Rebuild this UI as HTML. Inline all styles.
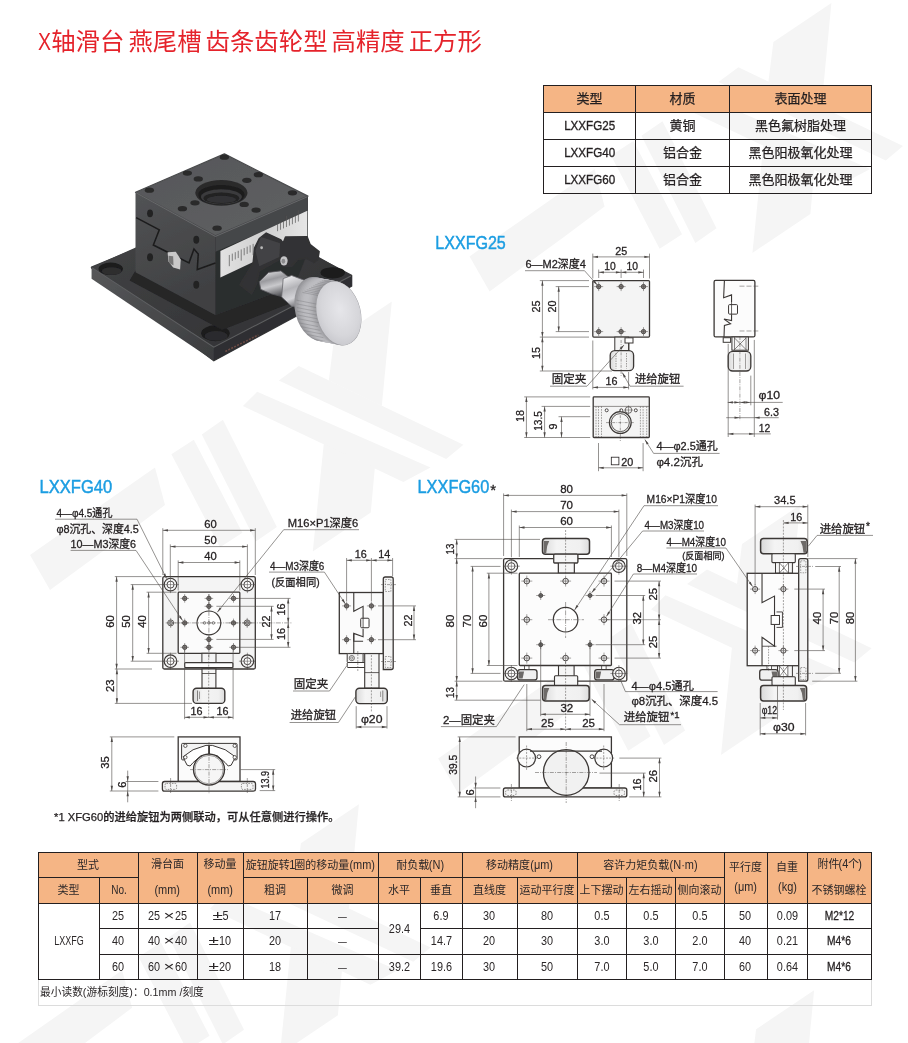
<!DOCTYPE html>
<html lang="zh-CN">
<head>
<meta charset="utf-8">
<title>X轴滑台 燕尾槽 齿条齿轮型 高精度 正方形</title>
<style>
html,body{margin:0;padding:0;background:#fff;}
#page{position:absolute;left:0;top:0;width:908px;height:1043px;overflow:hidden;will-change:transform;transform:translateZ(0);}
body{width:908px;height:1043px;position:relative;overflow:hidden;font-family:"Liberation Sans","Noto Sans CJK SC",sans-serif;color:#231f20;}
.abs{position:absolute;left:0;top:0;}
h1{position:absolute;left:37.5px;top:25px;margin:0;font-size:24.4px;line-height:34px;font-weight:400;color:#e5232b;white-space:nowrap;letter-spacing:0;}
h1 .x{display:inline-block;transform-origin:0 50%;transform:scaleX(.8);margin-right:-2.6px;}
h1 .s{display:inline-block;width:4px;}
table{border-collapse:collapse;table-layout:fixed;position:absolute;}
.t1{left:543px;top:85px;width:328px;font-size:13px;}
.t1 th,.t1 td{border:1.2px solid #231f20;height:26px;padding:0;text-align:center;vertical-align:middle;font-weight:400;-webkit-text-stroke:0.25px #231f20;line-height:26px;white-space:nowrap;overflow:hidden;}
.t1 th{background:#f5b585;}
.t1 td{background:rgba(255,255,255,.0);}
.la{display:inline-block;transform:scaleX(.86);font-weight:400;font-size:13.5px;-webkit-text-stroke:0.35px #231f20;}
.t2{left:37.5px;top:851.5px;width:833px;font-size:11px;color:#2b2728;}
.t2 tr{height:25.6px;}
.t2 thead tr.h1{height:25.1px;}
.t2 thead tr.h2{height:25.8px;}
.t2 th,.t2 td{border:1.1px solid #231f20;padding:0;text-align:center;vertical-align:middle;font-weight:400;white-space:nowrap;overflow:hidden;line-height:14px;box-sizing:border-box;}
.t2 th{background:#f5b585;}
.t2 .two div{line-height:26.4px;margin:-1.6px 0 -1.2px;}
.t2 .tight div{line-height:20px;margin:0;position:relative;top:-0.5px;}
.t2 .n{display:inline-block;font-size:12.8px;transform:scaleX(.85);margin:0 -1px;}
.t2 .c{display:inline-block;font-size:12.8px;transform:scaleX(.7);}
.t2 .k{display:inline-block;font-size:12.8px;transform:scaleX(.78);}
.t2 .w{display:inline-block;font-size:13.5px;transform:scaleX(1.4);margin:0 1.6px 0 1.8px;position:relative;top:-0.3px;}
.t2 th .n{font-size:12.2px;transform:scaleX(.9);margin:0 -1.2px;}
.t2 .b .c{transform:scaleX(.8);-webkit-text-stroke:0.3px #231f20;color:#231f20;}
.t2 .d{display:inline-block;transform:scaleX(.8);}
.note{position:absolute;left:38px;top:980px;width:834px;height:26px;border:1px solid #dcdcdc;border-top:none;box-sizing:border-box;font-size:11px;line-height:25px;color:#2b2728;white-space:nowrap;}
.note span{display:inline-block;transform-origin:0 50%;transform:scaleX(.975);padding-left:1px;}
svg text{font-family:"Liberation Sans","Noto Sans CJK SC",sans-serif;}
</style>
</head>
<body>
<div id="page">
<svg class="abs" id="wm" width="908" height="1043" viewBox="0 0 908 1043">
<g transform="translate(831.4 2.9)">
<polygon points="0,0 -58,39 -63,79 -10,104.5" fill="#f5f5f5"/>
<polygon points="-93,64.4 71.6,143.2 54.4,157.5 -113,79" fill="#f5f5f5"/>
<polygon points="-134.6,90.2 38.7,166 11.5,180.5 -148.9,104.5" fill="#f5f5f5"/>
<polygon points="-68,142 -17,166.5 -21,211 -79,250" fill="#f5f5f5"/>
<polygon points="-220.4,152.7 -198,138.2 -149.38,231.33 -171.78,245.83" fill="#f5f5f5"/>
<polygon points="-190,132.9 -168.9,118.3 -114.9,225.46 -136,240.06" fill="#f5f5f5"/>
<polygon points="-236.8,166 -361.8,253.5 -341.8,288.5 -266.8,233.5 -226.8,203.5" fill="#f5f5f5"/>
</g>
<g transform="translate(391.8 301.5)">
<polygon points="0,0 -58,39 -63,79 -10,104.5" fill="#f5f5f5"/>
<polygon points="-93,64.4 71.6,143.2 54.4,157.5 -113,79" fill="#f5f5f5"/>
<polygon points="-134.6,90.2 38.7,166 11.5,180.5 -148.9,104.5" fill="#f5f5f5"/>
<polygon points="-68,142 -17,166.5 -21,211 -79,250" fill="#f5f5f5"/>
<polygon points="-220.4,152.7 -198,138.2 -149.38,231.33 -171.78,245.83" fill="#f5f5f5"/>
<polygon points="-190,132.9 -168.9,118.3 -114.9,225.46 -136,240.06" fill="#f5f5f5"/>
<polygon points="-236.8,166 -361.8,253.5 -341.8,288.5 -266.8,233.5 -226.8,203.5" fill="#f5f5f5"/>
</g>
<g transform="translate(358.9 804.3)">
<polygon points="0,0 -58,39 -63,79 -10,104.5" fill="#f5f5f5"/>
<polygon points="-93,64.4 71.6,143.2 54.4,157.5 -113,79" fill="#f5f5f5"/>
<polygon points="-134.6,90.2 38.7,166 11.5,180.5 -148.9,104.5" fill="#f5f5f5"/>
<polygon points="-68,142 -17,166.5 -21,211 -79,250" fill="#f5f5f5"/>
<polygon points="-220.4,152.7 -198,138.2 -149.38,231.33 -171.78,245.83" fill="#f5f5f5"/>
<polygon points="-190,132.9 -168.9,118.3 -114.9,225.46 -136,240.06" fill="#f5f5f5"/>
<polygon points="-236.8,166 -361.8,253.5 -341.8,288.5 -266.8,233.5 -226.8,203.5" fill="#f5f5f5"/>
</g>
<g transform="translate(814.1 990.2)">
<polygon points="0,0 -58,39 -63,79 -10,104.5" fill="#f5f5f5"/>
<polygon points="-93,64.4 71.6,143.2 54.4,157.5 -113,79" fill="#f5f5f5"/>
<polygon points="-134.6,90.2 38.7,166 11.5,180.5 -148.9,104.5" fill="#f5f5f5"/>
<polygon points="-68,142 -17,166.5 -21,211 -79,250" fill="#f5f5f5"/>
<polygon points="-220.4,152.7 -198,138.2 -149.38,231.33 -171.78,245.83" fill="#f5f5f5"/>
<polygon points="-190,132.9 -168.9,118.3 -114.9,225.46 -136,240.06" fill="#f5f5f5"/>
<polygon points="-236.8,166 -361.8,253.5 -341.8,288.5 -266.8,233.5 -226.8,203.5" fill="#f5f5f5"/>
</g>
<g transform="translate(800 505)">
<polygon points="0,0 -58,39 -63,79 -10,104.5" fill="#f5f5f5"/>
<polygon points="-93,64.4 71.6,143.2 54.4,157.5 -113,79" fill="#f5f5f5"/>
<polygon points="-134.6,90.2 38.7,166 11.5,180.5 -148.9,104.5" fill="#f5f5f5"/>
<polygon points="-68,142 -17,166.5 -21,211 -79,250" fill="#f5f5f5"/>
<polygon points="-220.4,152.7 -198,138.2 -149.38,231.33 -171.78,245.83" fill="#f5f5f5"/>
<polygon points="-190,132.9 -168.9,118.3 -114.9,225.46 -136,240.06" fill="#f5f5f5"/>
<polygon points="-236.8,166 -361.8,253.5 -341.8,288.5 -266.8,233.5 -226.8,203.5" fill="#f5f5f5"/>
</g>
</svg>
<h1><span class="x">X</span>轴滑台<span class="s"> </span>燕尾槽<span class="s"> </span>齿条齿轮型<span class="s"> </span>高精度<span class="s"> </span>正方形</h1>
<table class="t1"><colgroup><col style="width:92px"><col style="width:94px"><col style="width:142px"></colgroup>
<thead><tr><th>类型</th><th>材质</th><th>表面处理</th></tr></thead>
<tbody>
<tr><td><span class="la">LXXFG25</span></td><td>黄铜</td><td>黑色氟树脂处理</td></tr>
<tr><td><span class="la">LXXFG40</span></td><td>铝合金</td><td>黑色阳极氧化处理</td></tr>
<tr><td><span class="la">LXXFG60</span></td><td>铝合金</td><td>黑色阳极氧化处理</td></tr>
</tbody></table>
<svg class="abs" id="photo" width="908" height="1043" viewBox="0 0 908 1043">
<defs>
<filter id="soft" x="-5%" y="-5%" width="110%" height="110%"><feGaussianBlur stdDeviation="0.45"/></filter>
<linearGradient id="pl" x1="0" y1="0" x2="1" y2="1"><stop offset="0" stop-color="#565759"/><stop offset="1" stop-color="#3c3d3f"/></linearGradient>
<linearGradient id="pt" x1="0" y1="0" x2="1" y2="1"><stop offset="0" stop-color="#444547"/><stop offset="1" stop-color="#303032"/></linearGradient>
<linearGradient id="bl" x1="0" y1="0" x2="0.3" y2="1"><stop offset="0" stop-color="#525355"/><stop offset="1" stop-color="#3f4042"/></linearGradient>
<linearGradient id="tf" x1="0" y1="0" x2="1" y2="1"><stop offset="0" stop-color="#555658"/><stop offset="1" stop-color="#606163"/></linearGradient>
<linearGradient id="lb" x1="0" y1="0" x2="1" y2="0"><stop offset="0" stop-color="#e2e2e2"/><stop offset="0.5" stop-color="#cfcfcf"/><stop offset="1" stop-color="#e6e6e6"/></linearGradient>
<linearGradient id="sh" x1="0.2" y1="0" x2="0.5" y2="1"><stop offset="0" stop-color="#e2e2e4"/><stop offset="0.35" stop-color="#9a9a9e"/><stop offset="0.6" stop-color="#c9c9cc"/><stop offset="1" stop-color="#56565a"/></linearGradient>
<linearGradient id="sh2" x1="0.2" y1="0" x2="0.5" y2="1"><stop offset="0" stop-color="#f0f0f2"/><stop offset="0.4" stop-color="#b4b4b8"/><stop offset="0.7" stop-color="#d4d4d8"/><stop offset="1" stop-color="#6a6a6e"/></linearGradient>
<radialGradient id="kf" cx="0.55" cy="0.45" r="0.75"><stop offset="0" stop-color="#e6e6ea"/><stop offset="0.55" stop-color="#d6d6da"/><stop offset="1" stop-color="#bcbcc2"/></radialGradient>
<linearGradient id="gk" x1="0" y1="0" x2="1" y2="0"><stop offset="0" stop-color="#d9d9d9"/><stop offset="0.3" stop-color="#f4f4f4"/><stop offset="0.8" stop-color="#f0f0f0"/><stop offset="1" stop-color="#dcdcdc"/></linearGradient>
</defs>
<g filter="url(#soft)">
<polygon points="91.56,267.85 213.8,360.68 351.56,286.02 351.56,275.45 228.66,211.03 91.56,267.19" fill="#3a3b3d" stroke="#3a3b3d" stroke-width="1.5" stroke-linejoin="round"/>
<polygon points="91.56,267.19 213.8,346.48 213.8,360.68 91.56,278.75" fill="url(#pl)" />
<polygon points="213.8,346.48 351.56,275.45 351.56,286.02 213.8,360.68" fill="#2e2e30" />
<polygon points="91.56,267.19 228.66,206.07 351.56,275.45 213.8,346.48" fill="url(#pt)" />
<polyline points="92.22,267.85 213.8,347.14 350.9,276.11" fill="none" stroke="#5d5e60" stroke-width="1.1"/>
<polyline points="225.36,351.43 258.39,334.91" fill="none" stroke="#6b4a44" stroke-width="1.6" stroke-dasharray="2 1.3"/>
<ellipse cx="110.72" cy="268.84" rx="12.22" ry="6.28" fill="#1a1a1b" />
<ellipse cx="111.71" cy="271.15" rx="9.91" ry="3.96" fill="#2d2d2f" />
<ellipse cx="215.45" cy="333.26" rx="14.21" ry="7.93" fill="#1a1a1b" />
<ellipse cx="216.11" cy="335.9" rx="11.56" ry="4.96" fill="#2b2b2d" />
<ellipse cx="332.73" cy="272.8" rx="12.22" ry="5.62" fill="#1a1a1b" />
<polygon points="135.5,270.49 215.45,315.09 294.73,285.36 311.25,295.27 222.05,329.96 129.55,280.4" fill="#252527" />
<polygon points="135.5,192.2 215.45,235.8 215.45,315.09 135.5,272.14" fill="url(#bl)" />
<polygon points="215.45,235.8 307.95,196.16 307.95,252.32 294.73,285.36 215.45,315.09" fill="#2c2d2f" />
<polygon points="215.45,235.8 307.95,196.16 307.95,212.02 215.45,251.66" fill="#454648" />
<polygon points="220.4,251 307.29,210.7 307.29,236.47 220.4,277.43" fill="url(#lb)" />
<line x1="229.32" y1="254.97" x2="229.32" y2="266.2" stroke="#555" stroke-width="0.7"/>
<line x1="232.3" y1="253.58" x2="232.3" y2="260.85" stroke="#555" stroke-width="0.7"/>
<line x1="235.27" y1="252.19" x2="235.27" y2="259.46" stroke="#555" stroke-width="0.7"/>
<line x1="238.24" y1="250.8" x2="238.24" y2="258.07" stroke="#555" stroke-width="0.7"/>
<line x1="241.22" y1="249.42" x2="241.22" y2="260.65" stroke="#555" stroke-width="0.7"/>
<line x1="244.19" y1="248.03" x2="244.19" y2="255.3" stroke="#555" stroke-width="0.7"/>
<line x1="247.16" y1="246.64" x2="247.16" y2="253.91" stroke="#555" stroke-width="0.7"/>
<line x1="250.14" y1="245.25" x2="250.14" y2="252.52" stroke="#555" stroke-width="0.7"/>
<line x1="253.11" y1="243.87" x2="253.11" y2="255.1" stroke="#555" stroke-width="0.7"/>
<line x1="277.56" y1="231.18" x2="277.56" y2="223.91" stroke="#555" stroke-width="0.7"/>
<line x1="280.53" y1="229.79" x2="280.53" y2="222.52" stroke="#555" stroke-width="0.7"/>
<line x1="283.5" y1="228.4" x2="283.5" y2="221.14" stroke="#555" stroke-width="0.7"/>
<line x1="286.48" y1="227.02" x2="286.48" y2="215.78" stroke="#555" stroke-width="0.7"/>
<line x1="289.45" y1="225.63" x2="289.45" y2="218.36" stroke="#555" stroke-width="0.7"/>
<line x1="292.42" y1="224.24" x2="292.42" y2="216.97" stroke="#555" stroke-width="0.7"/>
<line x1="295.39" y1="222.85" x2="295.39" y2="215.59" stroke="#555" stroke-width="0.7"/>
<line x1="298.37" y1="221.47" x2="298.37" y2="210.23" stroke="#555" stroke-width="0.7"/>
<polygon points="135.5,192.2 224.37,153.88 307.95,196.16 215.45,235.8" fill="url(#tf)" stroke="#4a4b4d" stroke-width="1.2" stroke-linejoin="round"/>
<polyline points="136.16,192.86 215.45,236.47 307.29,196.82" fill="none" stroke="#6a6b6d" stroke-width="0.9"/>
<ellipse cx="221.39" cy="192.86" rx="26.1" ry="12.88" fill="#2a2a2b" />
<ellipse cx="221.39" cy="194.84" rx="23.13" ry="9.91" fill="#1c1c1d" />
<ellipse cx="221.39" cy="196.82" rx="20.48" ry="7.6" fill="#3a3a3c" />
<ellipse cx="221.39" cy="198.14" rx="17.84" ry="5.62" fill="#202021" />
<ellipse cx="221.39" cy="199.46" rx="14.54" ry="3.63" fill="#323234" />
<ellipse cx="224.37" cy="157.18" rx="4.63" ry="2.64" fill="#29292a" />
<ellipse cx="187.37" cy="173.04" rx="4.63" ry="2.64" fill="#29292a" />
<ellipse cx="198.27" cy="178.98" rx="4.63" ry="2.64" fill="#29292a" />
<ellipse cx="258.39" cy="174.69" rx="4.63" ry="2.64" fill="#29292a" />
<ellipse cx="246.83" cy="180.3" rx="4.63" ry="2.64" fill="#29292a" />
<ellipse cx="149.38" cy="190.21" rx="4.63" ry="2.64" fill="#29292a" />
<ellipse cx="292.42" cy="192.86" rx="4.63" ry="2.64" fill="#29292a" />
<ellipse cx="182.41" cy="208.71" rx="4.63" ry="2.64" fill="#29292a" />
<ellipse cx="194.97" cy="202.77" rx="4.63" ry="2.64" fill="#29292a" />
<ellipse cx="244.19" cy="204.42" rx="4.63" ry="2.64" fill="#29292a" />
<ellipse cx="256.08" cy="210.04" rx="4.63" ry="2.64" fill="#29292a" />
<ellipse cx="217.1" cy="228.21" rx="4.63" ry="2.64" fill="#29292a" />
<polyline points="136.16,217.63 159.29,229.86 153.34,245.05 189.02,262.89 193.97,249.02 198.27,253.97 197.28,269.5 215.45,262.89" fill="none" stroke="#1d1d1e" stroke-width="1.6"/>
<polygon points="167.55,252.32 175.8,251.66 180.76,259.59 180.1,269.5 173.16,267.52 168.54,261.57" fill="#c9c9c9" />
<polygon points="168.54,255.63 173.16,256.29 173.49,265.54 169.2,262.89" fill="#777" />
<ellipse cx="150.04" cy="213.34" rx="2.97" ry="3.96" fill="#222223" />
<ellipse cx="196.29" cy="239.77" rx="2.97" ry="3.96" fill="#222223" />
<ellipse cx="150.04" cy="257.28" rx="2.97" ry="3.96" fill="#222223" />
<ellipse cx="196.29" cy="284.7" rx="2.97" ry="3.96" fill="#222223" />
<polygon points="259.29,281.67 268.54,272.42 280.88,270.88 288.59,277.05 283.96,297.09 271.63,294.01 260.84,289.38" fill="url(#sh)" stroke="#5a5a5e" stroke-width="0.8" stroke-linejoin="round"/>
<polygon points="283.19,278.59 291.67,275.5 304.01,280.13 308.63,284.75 302.46,307.88 291.67,306.34 281.65,297.09" fill="url(#sh2)" stroke="#6a6a6e" stroke-width="0.8" stroke-linejoin="round"/>
<polygon points="266.23,233.11 280.88,240.04 283.19,243.13 285.5,236.96 307.09,236.65 310.17,244.67 319.12,251.61 317.88,259.32 314.03,262.4 307.09,258.54 297.84,259.32 291.67,266.25 283.19,266.25 280.88,258.54 259.29,270.88 256.21,284.75 251.58,294.01 240.02,284.75 253.13,263.17 254.67,247.75 259.29,238.5" fill="#323234" stroke="#323234" stroke-width="1.5" stroke-linejoin="round"/>
<polygon points="260.84,236.96 280.11,243.13 279.34,257 259.29,266.25 255.44,250.84" fill="#434345" />
<ellipse cx="261.61" cy="247.75" rx="1.39" ry="1.39" fill="#b8b8b8" />
<ellipse cx="283.96" cy="260.86" rx="3.7" ry="4.63" fill="#c4c4c6" />
<ellipse cx="283.35" cy="261.32" rx="1.85" ry="2.47" fill="#8a8a8c" />
<ellipse cx="317.11" cy="309.12" rx="22.05" ry="32.69" fill="rgb(150,150,154)" transform="rotate(-14 317.11 309.12)" />
<ellipse cx="318.65" cy="309.41" rx="22.05" ry="32.69" fill="rgb(158,158,162)" transform="rotate(-14 318.65 309.41)" />
<ellipse cx="320.19" cy="309.71" rx="22.05" ry="32.69" fill="rgb(167,167,171)" transform="rotate(-14 320.19 309.71)" />
<ellipse cx="321.74" cy="310.01" rx="22.05" ry="32.69" fill="rgb(174,174,178)" transform="rotate(-14 321.74 310.01)" />
<ellipse cx="323.28" cy="310.3" rx="22.05" ry="32.69" fill="rgb(180,180,184)" transform="rotate(-14 323.28 310.3)" />
<ellipse cx="324.82" cy="310.6" rx="22.05" ry="32.69" fill="rgb(185,185,189)" transform="rotate(-14 324.82 310.6)" />
<ellipse cx="326.36" cy="310.9" rx="22.05" ry="32.69" fill="rgb(188,188,192)" transform="rotate(-14 326.36 310.9)" />
<ellipse cx="327.9" cy="311.2" rx="22.05" ry="32.69" fill="rgb(189,189,193)" transform="rotate(-14 327.9 311.2)" />
<ellipse cx="329.44" cy="311.49" rx="22.05" ry="32.69" fill="rgb(189,189,193)" transform="rotate(-14 329.44 311.49)" />
<ellipse cx="330.99" cy="311.79" rx="22.05" ry="32.69" fill="rgb(186,186,190)" transform="rotate(-14 330.99 311.79)" />
<ellipse cx="332.53" cy="312.09" rx="22.05" ry="32.69" fill="rgb(182,182,186)" transform="rotate(-14 332.53 312.09)" />
<ellipse cx="334.07" cy="312.39" rx="22.05" ry="32.69" fill="rgb(175,175,179)" transform="rotate(-14 334.07 312.39)" />
<ellipse cx="335.61" cy="312.68" rx="22.05" ry="32.69" fill="rgb(168,168,172)" transform="rotate(-14 335.61 312.68)" />
<ellipse cx="337.15" cy="312.98" rx="22.05" ry="32.69" fill="rgb(160,160,164)" transform="rotate(-14 337.15 312.98)" />
<ellipse cx="338.7" cy="313.28" rx="22.05" ry="32.69" fill="rgb(151,151,155)" transform="rotate(-14 338.7 313.28)" />
<clipPath id="kc"><ellipse cx="317.11" cy="309.12" rx="21.74" ry="32.38" transform="rotate(-14 317.11 309.12)"/><ellipse cx="327.9" cy="311.2" rx="21.74" ry="32.38" transform="rotate(-14 327.9 311.2)"/></clipPath>
<g opacity="0.55" clip-path="url(#kc)">
<line x1="302.46" y1="292.46" x2="323.28" y2="296.47" stroke="#77777b" stroke-width="0.7"/>
<line x1="304.62" y1="291.15" x2="325.44" y2="295.16" stroke="#77777b" stroke-width="0.7"/>
<line x1="306.78" y1="289.84" x2="327.59" y2="293.85" stroke="#77777b" stroke-width="0.7"/>
<line x1="308.94" y1="288.53" x2="329.75" y2="292.54" stroke="#77777b" stroke-width="0.7"/>
<line x1="311.1" y1="287.22" x2="331.91" y2="291.23" stroke="#77777b" stroke-width="0.7"/>
<line x1="313.26" y1="285.91" x2="334.07" y2="289.92" stroke="#77777b" stroke-width="0.7"/>
<line x1="315.41" y1="284.6" x2="336.23" y2="288.61" stroke="#77777b" stroke-width="0.7"/>
<line x1="317.57" y1="283.29" x2="338.39" y2="287.3" stroke="#77777b" stroke-width="0.7"/>
<line x1="319.73" y1="281.98" x2="340.55" y2="285.99" stroke="#77777b" stroke-width="0.7"/>
<line x1="321.89" y1="280.75" x2="342.7" y2="284.75" stroke="#77777b" stroke-width="0.7"/>
<line x1="324.05" y1="280.28" x2="344.86" y2="284.29" stroke="#77777b" stroke-width="0.7"/>
<line x1="326.21" y1="279.82" x2="347.02" y2="283.83" stroke="#77777b" stroke-width="0.7"/>
<line x1="328.37" y1="279.36" x2="349.18" y2="283.37" stroke="#77777b" stroke-width="0.7"/>
<line x1="330.52" y1="278.9" x2="351.34" y2="282.9" stroke="#77777b" stroke-width="0.7"/>
<line x1="332.68" y1="278.43" x2="353.5" y2="282.44" stroke="#77777b" stroke-width="0.7"/>
<line x1="334.84" y1="277.97" x2="355.66" y2="281.98" stroke="#77777b" stroke-width="0.7"/>
<line x1="337" y1="277.51" x2="357.81" y2="281.52" stroke="#77777b" stroke-width="0.7"/>
<line x1="339.16" y1="277.05" x2="359.97" y2="281.05" stroke="#77777b" stroke-width="0.7"/>
<line x1="296.3" y1="300.17" x2="317.88" y2="304.34" stroke="#77777b" stroke-width="0.7"/>
<line x1="296.6" y1="303.87" x2="318.19" y2="308.04" stroke="#77777b" stroke-width="0.7"/>
<line x1="296.91" y1="307.57" x2="318.5" y2="311.74" stroke="#77777b" stroke-width="0.7"/>
<line x1="297.22" y1="311.27" x2="318.81" y2="315.44" stroke="#77777b" stroke-width="0.7"/>
<line x1="297.53" y1="314.97" x2="319.12" y2="319.14" stroke="#77777b" stroke-width="0.7"/>
<line x1="297.84" y1="318.67" x2="319.42" y2="322.84" stroke="#77777b" stroke-width="0.7"/>
<line x1="296.3" y1="322.37" x2="317.88" y2="326.54" stroke="#77777b" stroke-width="0.7"/>
<line x1="298.15" y1="326.07" x2="319.73" y2="330.24" stroke="#77777b" stroke-width="0.7"/>
<line x1="300" y1="329.77" x2="321.58" y2="333.94" stroke="#77777b" stroke-width="0.7"/>
<line x1="301.85" y1="333.48" x2="323.43" y2="337.64" stroke="#77777b" stroke-width="0.7"/>
<line x1="303.7" y1="337.18" x2="325.28" y2="341.34" stroke="#77777b" stroke-width="0.7"/>
<line x1="305.55" y1="340.88" x2="327.13" y2="345.04" stroke="#77777b" stroke-width="0.7"/>
</g>
<ellipse cx="338.7" cy="313.28" rx="21.74" ry="32.38" fill="url(#kf)" transform="rotate(-14 338.7 313.28)" />
</g>
</svg>
<svg class="abs" id="draw" width="908" height="1043" viewBox="0 0 908 1043">
<g id="lxxfg25">
<rect x="592.8" y="280.6" width="56.7" height="56.5" rx="1" fill="#f4f4f4" stroke="#3b3735" stroke-width="1.3"/>
<circle cx="598.7" cy="286.6" r="2.2" fill="#8a8684" stroke="#3b3735" stroke-width="0.8"/>
<line x1="594.2" y1="286.6" x2="603.2" y2="286.6" stroke="#4d4947" stroke-width="0.5"/>
<line x1="598.7" y1="282.1" x2="598.7" y2="291.1" stroke="#4d4947" stroke-width="0.5"/>
<circle cx="621.1" cy="286.6" r="2.2" fill="#8a8684" stroke="#3b3735" stroke-width="0.8"/>
<line x1="616.6" y1="286.6" x2="625.6" y2="286.6" stroke="#4d4947" stroke-width="0.5"/>
<line x1="621.1" y1="282.1" x2="621.1" y2="291.1" stroke="#4d4947" stroke-width="0.5"/>
<circle cx="643.5" cy="286.6" r="2.2" fill="#8a8684" stroke="#3b3735" stroke-width="0.8"/>
<line x1="639" y1="286.6" x2="648" y2="286.6" stroke="#4d4947" stroke-width="0.5"/>
<line x1="643.5" y1="282.1" x2="643.5" y2="291.1" stroke="#4d4947" stroke-width="0.5"/>
<circle cx="598.7" cy="331.6" r="2.2" fill="#8a8684" stroke="#3b3735" stroke-width="0.8"/>
<line x1="594.2" y1="331.6" x2="603.2" y2="331.6" stroke="#4d4947" stroke-width="0.5"/>
<line x1="598.7" y1="327.1" x2="598.7" y2="336.1" stroke="#4d4947" stroke-width="0.5"/>
<circle cx="621.1" cy="331.6" r="2.2" fill="#8a8684" stroke="#3b3735" stroke-width="0.8"/>
<line x1="616.6" y1="331.6" x2="625.6" y2="331.6" stroke="#4d4947" stroke-width="0.5"/>
<line x1="621.1" y1="327.1" x2="621.1" y2="336.1" stroke="#4d4947" stroke-width="0.5"/>
<circle cx="643.5" cy="331.6" r="2.2" fill="#8a8684" stroke="#3b3735" stroke-width="0.8"/>
<line x1="639" y1="331.6" x2="648" y2="331.6" stroke="#4d4947" stroke-width="0.5"/>
<line x1="643.5" y1="327.1" x2="643.5" y2="336.1" stroke="#4d4947" stroke-width="0.5"/>
<rect x="614.8" y="337.1" width="13.8" height="14" fill="#f4f4f4" stroke="#3b3735" stroke-width="1.0"/>
<rect x="625" y="337.8" width="8" height="5.2" fill="#fff" stroke="#3b3735" stroke-width="1.0"/>
<rect x="610.2" y="350.7" width="23.4" height="20" rx="4.5" fill="url(#gk)" stroke="#3b3735" stroke-width="1.3"/>
<rect x="593.2" y="396.9" width="56.1" height="40.6" rx="0.8" fill="#f4f4f4" stroke="#3b3735" stroke-width="1.3"/>
<circle cx="620.3" cy="422.6" r="10.9" fill="#e9e9e9" stroke="#3b3735" stroke-width="1.2"/>
<circle cx="620.3" cy="422.6" r="9" fill="#f6f6f6" stroke="#3b3735" stroke-width="0.8"/>
<circle cx="606.7" cy="410.3" r="1.5" fill="#fff" stroke="#3b3735" stroke-width="0.9"/>
<circle cx="621.3" cy="410.3" r="1.5" fill="#fff" stroke="#3b3735" stroke-width="0.9"/>
<circle cx="635.8" cy="410.3" r="1.5" fill="#fff" stroke="#3b3735" stroke-width="0.9"/>
<circle cx="628.5" cy="410" r="3.3" fill="none" stroke="#3b3735" stroke-width="0.7"/>
<rect x="611.3" y="457.2" width="7.6" height="7.6" fill="none" stroke="#231f20" stroke-width="0.8"/>
<rect x="714.1" y="280.4" width="40.8" height="56.5" rx="1.5" fill="#fcfcfc" stroke="#3b3735" stroke-width="1.3"/>
<rect x="728.57" y="304.61" width="8.92" height="9.52" rx="1" fill="#fff" stroke="#3b3735" stroke-width="1.0"/>
<rect x="723.2" y="337.7" width="7.4" height="4.6" fill="#fff" stroke="#3b3735" stroke-width="1.0"/>
<rect x="731.9" y="337" width="16.5" height="13.2" fill="#f4f4f4" stroke="#3b3735" stroke-width="1.0"/>
<rect x="728.2" y="351.4" width="22.6" height="19.6" rx="4.5" fill="url(#gk)" stroke="#3b3735" stroke-width="1.3"/>
<text x="435.3" y="249.3" font-size="18.5" text-anchor="start" fill="#1b9de2" stroke="#1b9de2" stroke-width="0.45" textLength="70.5" lengthAdjust="spacingAndGlyphs">LXXFG25</text>
<line x1="592.8" y1="253.6" x2="592.8" y2="278.5" stroke="#4d4947" stroke-width="0.6"/>
<line x1="649.5" y1="253.6" x2="649.5" y2="278.5" stroke="#4d4947" stroke-width="0.6"/>
<line x1="592.8" y1="256.9" x2="649.5" y2="256.9" stroke="#4d4947" stroke-width="0.6"/>
<polygon points="592.8,256.9 598,255.75 598,258.05" fill="#4d4947"/>
<polygon points="649.5,256.9 644.3,258.05 644.3,255.75" fill="#4d4947"/>
<text x="621.15" y="254.6" font-size="11.5" text-anchor="middle" fill="#231f20" stroke="#231f20" stroke-width="0.3" textLength="12" lengthAdjust="spacingAndGlyphs">25</text>
<line x1="598.7" y1="269.5" x2="598.7" y2="278" stroke="#4d4947" stroke-width="0.6"/>
<line x1="621.1" y1="269.5" x2="621.1" y2="278" stroke="#4d4947" stroke-width="0.6"/>
<line x1="643.5" y1="269.5" x2="643.5" y2="278" stroke="#4d4947" stroke-width="0.6"/>
<line x1="598.7" y1="272.3" x2="621.1" y2="272.3" stroke="#4d4947" stroke-width="0.6"/>
<polygon points="598.7,272.3 603.9,271.15 603.9,273.45" fill="#4d4947"/>
<polygon points="621.1,272.3 615.9,273.45 615.9,271.15" fill="#4d4947"/>
<text x="609.9" y="270.2" font-size="11.5" text-anchor="middle" fill="#231f20" stroke="#231f20" stroke-width="0.3" textLength="11.5" lengthAdjust="spacingAndGlyphs">10</text>
<line x1="621.1" y1="272.3" x2="643.5" y2="272.3" stroke="#4d4947" stroke-width="0.6"/>
<polygon points="621.1,272.3 626.3,271.15 626.3,273.45" fill="#4d4947"/>
<polygon points="643.5,272.3 638.3,273.45 638.3,271.15" fill="#4d4947"/>
<text x="632.3" y="270.2" font-size="11.5" text-anchor="middle" fill="#231f20" stroke="#231f20" stroke-width="0.3" textLength="11.5" lengthAdjust="spacingAndGlyphs">10</text>
<line x1="539.8" y1="280.6" x2="589" y2="280.6" stroke="#4d4947" stroke-width="0.6"/>
<line x1="539.8" y1="337.1" x2="589" y2="337.1" stroke="#4d4947" stroke-width="0.6"/>
<line x1="542.4" y1="280.6" x2="542.4" y2="337.1" stroke="#4d4947" stroke-width="0.6"/>
<polygon points="542.4,280.6 543.55,285.8 541.25,285.8" fill="#4d4947"/>
<polygon points="542.4,337.1 541.25,331.9 543.55,331.9" fill="#4d4947"/>
<text x="540.2" y="306.6" font-size="11.5" text-anchor="middle" fill="#231f20" stroke="#231f20" stroke-width="0.3" transform="rotate(-90 540.2 306.6)" textLength="12" lengthAdjust="spacingAndGlyphs">25</text>
<line x1="555.7" y1="286.6" x2="589" y2="286.6" stroke="#4d4947" stroke-width="0.6"/>
<line x1="555.7" y1="331.6" x2="589" y2="331.6" stroke="#4d4947" stroke-width="0.6"/>
<line x1="558.7" y1="286.6" x2="558.7" y2="331.6" stroke="#4d4947" stroke-width="0.6"/>
<polygon points="558.7,286.6 559.85,291.8 557.55,291.8" fill="#4d4947"/>
<polygon points="558.7,331.6 557.55,326.4 559.85,326.4" fill="#4d4947"/>
<text x="555.8" y="306.6" font-size="11.5" text-anchor="middle" fill="#231f20" stroke="#231f20" stroke-width="0.3" transform="rotate(-90 555.8 306.6)" textLength="12" lengthAdjust="spacingAndGlyphs">20</text>
<line x1="539.8" y1="371" x2="612" y2="371" stroke="#4d4947" stroke-width="0.6"/>
<line x1="542.4" y1="337.1" x2="542.4" y2="371" stroke="#4d4947" stroke-width="0.6"/>
<polygon points="542.4,337.1 543.55,342.3 541.25,342.3" fill="#4d4947"/>
<polygon points="542.4,371 541.25,365.8 543.55,365.8" fill="#4d4947"/>
<text x="540.2" y="353" font-size="11.5" text-anchor="middle" fill="#231f20" stroke="#231f20" stroke-width="0.3" transform="rotate(-90 540.2 353)" textLength="12" lengthAdjust="spacingAndGlyphs">15</text>
<text x="525.4" y="268.3" font-size="11.5" text-anchor="start" fill="#231f20" stroke="#231f20" stroke-width="0.3" textLength="60.5" lengthAdjust="spacingAndGlyphs">6—M2深度4</text>
<polyline points="525,270.7 584.5,270.7 597.3,285" fill="none" stroke="#4d4947" stroke-width="0.6" stroke-linejoin="miter"/>
<polygon points="597.3,285 592.98,281.89 594.69,280.36" fill="#4d4947"/>
<line x1="629" y1="343" x2="629" y2="350.5" stroke="#3b3735" stroke-width="0.8"/>
<line x1="621.1" y1="340" x2="621.1" y2="376" stroke="#4d4947" stroke-width="0.5" stroke-dasharray="3 1.2 0.8 1.2"/>
<line x1="616" y1="353" x2="616" y2="368.5" stroke="#4d4947" stroke-width="0.5" stroke-dasharray="1.5 1"/>
<line x1="626.5" y1="353" x2="626.5" y2="368.5" stroke="#4d4947" stroke-width="0.5" stroke-dasharray="1.5 1"/>
<line x1="592.8" y1="340.5" x2="592.8" y2="389.4" stroke="#4d4947" stroke-width="0.6"/>
<line x1="628.6" y1="372" x2="628.6" y2="389.4" stroke="#4d4947" stroke-width="0.6"/>
<line x1="592.8" y1="387.4" x2="628.6" y2="387.4" stroke="#4d4947" stroke-width="0.6"/>
<polygon points="592.8,387.4 598,386.25 598,388.55" fill="#4d4947"/>
<polygon points="628.6,387.4 623.4,388.55 623.4,386.25" fill="#4d4947"/>
<text x="611.6" y="385.2" font-size="11.5" text-anchor="middle" fill="#231f20" stroke="#231f20" stroke-width="0.3" textLength="12" lengthAdjust="spacingAndGlyphs">16</text>
<text x="551.7" y="383" font-size="11.5" text-anchor="start" fill="#231f20" stroke="#231f20" stroke-width="0.3" textLength="34.7" lengthAdjust="spacingAndGlyphs">固定夹</text>
<polyline points="550,386.2 587,386.2 624,345" fill="none" stroke="#4d4947" stroke-width="0.6" stroke-linejoin="miter"/>
<polygon points="624,345 621.38,349.64 619.67,348.1" fill="#4d4947"/>
<text x="635" y="383" font-size="11.5" text-anchor="start" fill="#231f20" stroke="#231f20" stroke-width="0.3" textLength="45.2" lengthAdjust="spacingAndGlyphs">进给旋钮</text>
<polyline points="683.6,386.2 630,386.2 622.3,372.6" fill="none" stroke="#4d4947" stroke-width="0.6" stroke-linejoin="miter"/>
<polygon points="622.3,372.6 625.86,376.56 623.86,377.69" fill="#4d4947"/>
<line x1="593.2" y1="406.4" x2="649.3" y2="406.4" stroke="#4d4947" stroke-width="0.6"/>
<line x1="596" y1="406.4" x2="596" y2="437" stroke="#4d4947" stroke-width="0.5" stroke-dasharray="1.6 1.1"/>
<line x1="598.5" y1="406.4" x2="598.5" y2="437" stroke="#4d4947" stroke-width="0.5" stroke-dasharray="1.6 1.1"/>
<line x1="601.5" y1="406.4" x2="601.5" y2="437" stroke="#4d4947" stroke-width="0.5" stroke-dasharray="1.6 1.1"/>
<line x1="640.4" y1="406.4" x2="640.4" y2="437" stroke="#4d4947" stroke-width="0.5" stroke-dasharray="1.6 1.1"/>
<line x1="643.1" y1="406.4" x2="643.1" y2="437" stroke="#4d4947" stroke-width="0.5" stroke-dasharray="1.6 1.1"/>
<line x1="646.7" y1="406.4" x2="646.7" y2="437" stroke="#4d4947" stroke-width="0.5" stroke-dasharray="1.6 1.1"/>
<line x1="606" y1="422.6" x2="635" y2="422.6" stroke="#4d4947" stroke-width="0.5" stroke-dasharray="3 1.2 0.8 1.2"/>
<line x1="620.3" y1="409" x2="620.3" y2="441" stroke="#4d4947" stroke-width="0.5" stroke-dasharray="3 1.2 0.8 1.2"/>
<line x1="624" y1="410" x2="633" y2="410" stroke="#4d4947" stroke-width="0.5"/>
<line x1="628.5" y1="405.5" x2="628.5" y2="414.5" stroke="#4d4947" stroke-width="0.5"/>
<line x1="524.2" y1="396.9" x2="590.2" y2="396.9" stroke="#4d4947" stroke-width="0.6"/>
<line x1="524.2" y1="437.5" x2="590.2" y2="437.5" stroke="#4d4947" stroke-width="0.6"/>
<line x1="526.4" y1="396.9" x2="526.4" y2="437.5" stroke="#4d4947" stroke-width="0.6"/>
<polygon points="526.4,396.9 527.55,402.1 525.25,402.1" fill="#4d4947"/>
<polygon points="526.4,437.5 525.25,432.3 527.55,432.3" fill="#4d4947"/>
<text x="524" y="416" font-size="11.5" text-anchor="middle" fill="#231f20" stroke="#231f20" stroke-width="0.3" transform="rotate(-90 524 416)" textLength="12" lengthAdjust="spacingAndGlyphs">18</text>
<line x1="541.6" y1="406.4" x2="590.2" y2="406.4" stroke="#4d4947" stroke-width="0.6"/>
<line x1="544.6" y1="406.4" x2="544.6" y2="437.5" stroke="#4d4947" stroke-width="0.6"/>
<polygon points="544.6,406.4 545.75,411.6 543.45,411.6" fill="#4d4947"/>
<polygon points="544.6,437.5 543.45,432.3 545.75,432.3" fill="#4d4947"/>
<text x="541.6" y="421" font-size="11.5" text-anchor="middle" fill="#231f20" stroke="#231f20" stroke-width="0.3" transform="rotate(-90 541.6 421)" textLength="19.5" lengthAdjust="spacingAndGlyphs">13.5</text>
<line x1="558.5" y1="416.7" x2="590.2" y2="416.7" stroke="#4d4947" stroke-width="0.6"/>
<line x1="561.5" y1="416.7" x2="561.5" y2="437.5" stroke="#4d4947" stroke-width="0.6"/>
<polygon points="561.5,416.7 562.65,421.9 560.35,421.9" fill="#4d4947"/>
<polygon points="561.5,437.5 560.35,432.3 562.65,432.3" fill="#4d4947"/>
<text x="556.6" y="426.6" font-size="11.5" text-anchor="middle" fill="#231f20" stroke="#231f20" stroke-width="0.3" transform="rotate(-90 556.6 426.6)" textLength="6" lengthAdjust="spacingAndGlyphs">9</text>
<line x1="598.5" y1="443" x2="598.5" y2="471.2" stroke="#4d4947" stroke-width="0.6"/>
<line x1="643.1" y1="443" x2="643.1" y2="471.2" stroke="#4d4947" stroke-width="0.6"/>
<line x1="598.5" y1="467.8" x2="643.1" y2="467.8" stroke="#4d4947" stroke-width="0.6"/>
<polygon points="598.5,467.8 603.7,466.65 603.7,468.95" fill="#4d4947"/>
<polygon points="643.1,467.8 637.9,468.95 637.9,466.65" fill="#4d4947"/>
<text x="627.3" y="465.6" font-size="11.5" text-anchor="middle" fill="#231f20" stroke="#231f20" stroke-width="0.3" textLength="12" lengthAdjust="spacingAndGlyphs">20</text>
<polyline points="719.6,453.4 653.6,453.4 644.9,439.6" fill="none" stroke="#4d4947" stroke-width="0.6" stroke-linejoin="miter"/>
<polygon points="644.9,439.6 648.65,443.39 646.7,444.61" fill="#4d4947"/>
<text x="656.4" y="450.2" font-size="11.5" text-anchor="start" fill="#231f20" stroke="#231f20" stroke-width="0.3" textLength="61.4" lengthAdjust="spacingAndGlyphs">4—φ2.5通孔</text>
<text x="656.4" y="466.1" font-size="11.5" text-anchor="start" fill="#231f20" stroke="#231f20" stroke-width="0.3" textLength="46.6" lengthAdjust="spacingAndGlyphs">φ4.2沉孔</text>
<polyline points="724.41,280.62 723.62,297.67 731.55,294.89 731.55,302.03" fill="none" stroke="#3b3735" stroke-width="1.1" stroke-linejoin="miter"/>
<polyline points="731.55,315.11 731.55,320.47 724.01,319.08 730.56,323.84 724.41,325.42 724.01,336.92" fill="none" stroke="#3b3735" stroke-width="1.1" stroke-linejoin="miter"/>
<line x1="731.55" y1="302.03" x2="731.55" y2="315.11" stroke="#3b3735" stroke-width="0.8"/>
<line x1="739.48" y1="286.17" x2="758.31" y2="286.17" stroke="#4d4947" stroke-width="0.5" stroke-dasharray="5 2"/>
<line x1="739.48" y1="330.98" x2="758.31" y2="330.98" stroke="#4d4947" stroke-width="0.5" stroke-dasharray="5 2"/>
<line x1="734.5" y1="338" x2="746" y2="349.5" stroke="#3b3735" stroke-width="0.6"/>
<line x1="746" y1="338" x2="734.5" y2="349.5" stroke="#3b3735" stroke-width="0.6"/>
<line x1="734.5" y1="337" x2="734.5" y2="350" stroke="#3b3735" stroke-width="0.6"/>
<line x1="746" y1="337" x2="746" y2="350" stroke="#3b3735" stroke-width="0.6"/>
<line x1="733.5" y1="353.5" x2="733.5" y2="369" stroke="#4d4947" stroke-width="0.5"/>
<line x1="745.5" y1="353.5" x2="745.5" y2="369" stroke="#4d4947" stroke-width="0.5"/>
<line x1="728.2" y1="343.9" x2="728.2" y2="437" stroke="#4d4947" stroke-width="0.6"/>
<line x1="754.3" y1="339.9" x2="754.3" y2="437" stroke="#4d4947" stroke-width="0.6"/>
<line x1="750.8" y1="375.6" x2="750.8" y2="405.3" stroke="#4d4947" stroke-width="0.6"/>
<line x1="739.9" y1="336" x2="739.9" y2="420.5" stroke="#4d4947" stroke-width="0.5" stroke-dasharray="4 1.2 0.8 1.2"/>
<line x1="727.7" y1="402.4" x2="782.7" y2="402.4" stroke="#4d4947" stroke-width="0.6"/>
<polygon points="727.7,402.4 732.9,401.25 732.9,403.55" fill="#4d4947"/>
<polygon points="739.6,402.4 734.4,403.55 734.4,401.25" fill="#4d4947"/>
<polygon points="739.9,402.4 745.1,401.25 745.1,403.55" fill="#4d4947"/>
<polygon points="750.6,402.4 745.4,403.55 745.4,401.25" fill="#4d4947"/>
<text x="769.3" y="399.2" font-size="11.5" text-anchor="middle" fill="#231f20" stroke="#231f20" stroke-width="0.3" textLength="21.5" lengthAdjust="spacingAndGlyphs">φ10</text>
<line x1="726.2" y1="417.7" x2="778.7" y2="417.7" stroke="#4d4947" stroke-width="0.6"/>
<polygon points="739.7,417.7 734.5,418.85 734.5,416.55" fill="#4d4947"/>
<polygon points="754.4,417.7 759.6,416.55 759.6,418.85" fill="#4d4947"/>
<text x="771.6" y="415.6" font-size="11.5" text-anchor="middle" fill="#231f20" stroke="#231f20" stroke-width="0.3" textLength="15" lengthAdjust="spacingAndGlyphs">6.3</text>
<line x1="727.7" y1="433.9" x2="770.8" y2="433.9" stroke="#4d4947" stroke-width="0.6"/>
<polygon points="728.2,433.9 733.4,432.75 733.4,435.05" fill="#4d4947"/>
<polygon points="754.3,433.9 749.1,435.05 749.1,432.75" fill="#4d4947"/>
<text x="764.5" y="432.3" font-size="11.5" text-anchor="middle" fill="#231f20" stroke="#231f20" stroke-width="0.3" textLength="11.5" lengthAdjust="spacingAndGlyphs">12</text>
</g>
<g id="lxxfg40">
<rect x="162.8" y="576.6" width="92.5" height="92.4" rx="1.5" fill="#f4f4f4" stroke="#3b3735" stroke-width="1.3"/>
<circle cx="170.5" cy="584.6" r="6.3" fill="#f4f4f4" stroke="#3b3735" stroke-width="1.1"/>
<circle cx="170.5" cy="584.6" r="3.5" fill="#fff" stroke="#3b3735" stroke-width="0.9"/>
<line x1="162" y1="584.6" x2="179" y2="584.6" stroke="#4d4947" stroke-width="0.5"/>
<line x1="170.5" y1="576.1" x2="170.5" y2="593.1" stroke="#4d4947" stroke-width="0.5"/>
<circle cx="170.5" cy="661.2" r="6.3" fill="#f4f4f4" stroke="#3b3735" stroke-width="1.1"/>
<circle cx="170.5" cy="661.2" r="3.5" fill="#fff" stroke="#3b3735" stroke-width="0.9"/>
<line x1="162" y1="661.2" x2="179" y2="661.2" stroke="#4d4947" stroke-width="0.5"/>
<line x1="170.5" y1="652.7" x2="170.5" y2="669.7" stroke="#4d4947" stroke-width="0.5"/>
<circle cx="247.4" cy="584.6" r="6.3" fill="#f4f4f4" stroke="#3b3735" stroke-width="1.1"/>
<circle cx="247.4" cy="584.6" r="3.5" fill="#fff" stroke="#3b3735" stroke-width="0.9"/>
<line x1="238.9" y1="584.6" x2="255.9" y2="584.6" stroke="#4d4947" stroke-width="0.5"/>
<line x1="247.4" y1="576.1" x2="247.4" y2="593.1" stroke="#4d4947" stroke-width="0.5"/>
<circle cx="247.4" cy="661.2" r="6.3" fill="#f4f4f4" stroke="#3b3735" stroke-width="1.1"/>
<circle cx="247.4" cy="661.2" r="3.5" fill="#fff" stroke="#3b3735" stroke-width="0.9"/>
<line x1="238.9" y1="661.2" x2="255.9" y2="661.2" stroke="#4d4947" stroke-width="0.5"/>
<line x1="247.4" y1="652.7" x2="247.4" y2="669.7" stroke="#4d4947" stroke-width="0.5"/>
<rect x="178.2" y="592.2" width="61.6" height="61.1" rx="0.8" fill="#fbfbfb" stroke="#3b3735" stroke-width="1.3"/>
<circle cx="208.9" cy="622.9" r="11.9" fill="#fff" stroke="#3b3735" stroke-width="1.2"/>
<circle cx="204.5" cy="622.9" r="1.3" fill="#fff" stroke="#3b3735" stroke-width="0.6"/>
<circle cx="208.9" cy="622.9" r="1.3" fill="#fff" stroke="#3b3735" stroke-width="0.6"/>
<circle cx="213.4" cy="622.9" r="1.3" fill="#fff" stroke="#3b3735" stroke-width="0.6"/>
<circle cx="184.7" cy="598.4" r="2.2" fill="#8a8684" stroke="#3b3735" stroke-width="0.8"/>
<line x1="180.4" y1="598.4" x2="189" y2="598.4" stroke="#4d4947" stroke-width="0.5"/>
<line x1="184.7" y1="594.1" x2="184.7" y2="602.7" stroke="#4d4947" stroke-width="0.5"/>
<circle cx="208.9" cy="598.4" r="2.2" fill="#8a8684" stroke="#3b3735" stroke-width="0.8"/>
<line x1="204.6" y1="598.4" x2="213.2" y2="598.4" stroke="#4d4947" stroke-width="0.5"/>
<line x1="208.9" y1="594.1" x2="208.9" y2="602.7" stroke="#4d4947" stroke-width="0.5"/>
<circle cx="233.5" cy="598.4" r="2.2" fill="#8a8684" stroke="#3b3735" stroke-width="0.8"/>
<line x1="229.2" y1="598.4" x2="237.8" y2="598.4" stroke="#4d4947" stroke-width="0.5"/>
<line x1="233.5" y1="594.1" x2="233.5" y2="602.7" stroke="#4d4947" stroke-width="0.5"/>
<circle cx="208.9" cy="606.3" r="2.2" fill="#8a8684" stroke="#3b3735" stroke-width="0.8"/>
<line x1="204.6" y1="606.3" x2="213.2" y2="606.3" stroke="#4d4947" stroke-width="0.5"/>
<line x1="208.9" y1="602" x2="208.9" y2="610.6" stroke="#4d4947" stroke-width="0.5"/>
<circle cx="184.7" cy="622.9" r="2.2" fill="#8a8684" stroke="#3b3735" stroke-width="0.8"/>
<line x1="180.4" y1="622.9" x2="189" y2="622.9" stroke="#4d4947" stroke-width="0.5"/>
<line x1="184.7" y1="618.6" x2="184.7" y2="627.2" stroke="#4d4947" stroke-width="0.5"/>
<circle cx="233.5" cy="622.9" r="2.2" fill="#8a8684" stroke="#3b3735" stroke-width="0.8"/>
<line x1="229.2" y1="622.9" x2="237.8" y2="622.9" stroke="#4d4947" stroke-width="0.5"/>
<line x1="233.5" y1="618.6" x2="233.5" y2="627.2" stroke="#4d4947" stroke-width="0.5"/>
<circle cx="208.9" cy="639.4" r="2.2" fill="#8a8684" stroke="#3b3735" stroke-width="0.8"/>
<line x1="204.6" y1="639.4" x2="213.2" y2="639.4" stroke="#4d4947" stroke-width="0.5"/>
<line x1="208.9" y1="635.1" x2="208.9" y2="643.7" stroke="#4d4947" stroke-width="0.5"/>
<circle cx="184.7" cy="647.3" r="2.2" fill="#8a8684" stroke="#3b3735" stroke-width="0.8"/>
<line x1="180.4" y1="647.3" x2="189" y2="647.3" stroke="#4d4947" stroke-width="0.5"/>
<line x1="184.7" y1="643" x2="184.7" y2="651.6" stroke="#4d4947" stroke-width="0.5"/>
<circle cx="208.9" cy="647.3" r="2.2" fill="#8a8684" stroke="#3b3735" stroke-width="0.8"/>
<line x1="204.6" y1="647.3" x2="213.2" y2="647.3" stroke="#4d4947" stroke-width="0.5"/>
<line x1="208.9" y1="643" x2="208.9" y2="651.6" stroke="#4d4947" stroke-width="0.5"/>
<circle cx="233.5" cy="647.3" r="2.2" fill="#8a8684" stroke="#3b3735" stroke-width="0.8"/>
<line x1="229.2" y1="647.3" x2="237.8" y2="647.3" stroke="#4d4947" stroke-width="0.5"/>
<line x1="233.5" y1="643" x2="233.5" y2="651.6" stroke="#4d4947" stroke-width="0.5"/>
<circle cx="170.7" cy="622.9" r="3" fill="#fff" stroke="#3b3735" stroke-width="0.8"/>
<circle cx="170.7" cy="622.9" r="1.8" fill="#ddd" stroke="#3b3735" stroke-width="0.6"/>
<circle cx="247.2" cy="622.9" r="3" fill="#fff" stroke="#3b3735" stroke-width="0.8"/>
<circle cx="247.2" cy="622.9" r="1.8" fill="#ddd" stroke="#3b3735" stroke-width="0.6"/>
<rect x="201.9" y="653.3" width="14.1" height="9.2" fill="#f4f4f4" stroke="#3b3735" stroke-width="1.0"/>
<rect x="184.7" y="662.6" width="48.2" height="5" rx="1" fill="#fff" stroke="#3b3735" stroke-width="1.1"/>
<rect x="202" y="669" width="13.9" height="19.5" fill="#f6f6f6" stroke="#3b3735" stroke-width="1.1"/>
<rect x="193.1" y="688.2" width="31.7" height="15.2" rx="3.5" fill="url(#gk)" stroke="#3b3735" stroke-width="1.4"/>
<rect x="178.2" y="736.9" width="61.8" height="44.6" fill="#fbfbfb" stroke="#3b3735" stroke-width="1.3"/>
<rect x="162.4" y="781.5" width="93.1" height="9.6" rx="2.2" fill="#f4f4f4" stroke="#3b3735" stroke-width="1.3"/>
<rect x="181.6" y="743.4" width="55.5" height="16.5" rx="1" fill="#f4f4f4" stroke="#3b3735" stroke-width="1.0"/>
<polygon points="183.18,756.68 193.09,749.74 205.98,745.38 208.95,745.38 208.95,754.1 201.02,755.69 193.09,762.62 190.12,766 187.15,765.2 184.77,760.64" fill="#fff" stroke="#3b3735" stroke-width="1.0" stroke-linejoin="round"/>
<polygon points="235.12,756.68 225.21,749.74 212.32,745.38 209.35,745.38 209.35,754.1 217.28,755.69 225.21,762.62 228.18,766 231.16,765.2 233.54,760.64" fill="#fff" stroke="#3b3735" stroke-width="1.0" stroke-linejoin="round"/>
<circle cx="185.36" cy="745.77" r="1.7" fill="#fff" stroke="#3b3735" stroke-width="0.8"/>
<circle cx="185.36" cy="757.27" r="1.7" fill="#fff" stroke="#3b3735" stroke-width="0.8"/>
<circle cx="234.73" cy="745.77" r="1.7" fill="#fff" stroke="#3b3735" stroke-width="0.8"/>
<circle cx="234.73" cy="757.27" r="1.7" fill="#fff" stroke="#3b3735" stroke-width="0.8"/>
<circle cx="209" cy="769.6" r="15.5" fill="#ececec" stroke="#3b3735" stroke-width="1.3"/>
<circle cx="209" cy="769.6" r="14.2" fill="#f6f6f6" stroke="#4d4947" stroke-width="0.5"/>
<rect x="165" y="783.4" width="11.6" height="6" rx="1.5" fill="none" stroke="#4d4947" stroke-width="0.6" stroke-dasharray="1.6 1.1"/>
<rect x="241.4" y="783.4" width="11.6" height="6" rx="1.5" fill="none" stroke="#4d4947" stroke-width="0.6" stroke-dasharray="1.6 1.1"/>
<rect x="339.3" y="592.5" width="44" height="61.1" fill="#fbfbfb" stroke="#3b3735" stroke-width="1.3"/>
<path d="M383.3 669.5 V579 a2 2 0 0 1 2 -2 h5.9 a2 2 0 0 1 2 2 V667.5 a2 2 0 0 1 -2 2 Z" fill="#f4f4f4" stroke="#3b3735" stroke-width="1.3"/>
<rect x="385.3" y="579.5" width="5.6" height="12" fill="none" stroke="#4d4947" stroke-width="0.5" stroke-dasharray="1.6 1.1"/>
<rect x="385.3" y="656.5" width="5.6" height="11" fill="none" stroke="#4d4947" stroke-width="0.5" stroke-dasharray="1.6 1.1"/>
<rect x="360.71" y="618.22" width="8.33" height="9.52" rx="1" fill="#fff" stroke="#3b3735" stroke-width="1.0"/>
<circle cx="346.6" cy="605.9" r="2.2" fill="#8a8684" stroke="#3b3735" stroke-width="0.8"/>
<line x1="342.1" y1="605.9" x2="351.1" y2="605.9" stroke="#4d4947" stroke-width="0.5"/>
<line x1="346.6" y1="601.4" x2="346.6" y2="610.4" stroke="#4d4947" stroke-width="0.5"/>
<circle cx="371.4" cy="605.9" r="2.2" fill="#8a8684" stroke="#3b3735" stroke-width="0.8"/>
<line x1="366.9" y1="605.9" x2="375.9" y2="605.9" stroke="#4d4947" stroke-width="0.5"/>
<line x1="371.4" y1="601.4" x2="371.4" y2="610.4" stroke="#4d4947" stroke-width="0.5"/>
<circle cx="346.6" cy="639.7" r="2.2" fill="#8a8684" stroke="#3b3735" stroke-width="0.8"/>
<line x1="342.1" y1="639.7" x2="351.1" y2="639.7" stroke="#4d4947" stroke-width="0.5"/>
<line x1="346.6" y1="635.2" x2="346.6" y2="644.2" stroke="#4d4947" stroke-width="0.5"/>
<circle cx="371.4" cy="639.7" r="2.2" fill="#8a8684" stroke="#3b3735" stroke-width="0.8"/>
<line x1="366.9" y1="639.7" x2="375.9" y2="639.7" stroke="#4d4947" stroke-width="0.5"/>
<line x1="371.4" y1="635.2" x2="371.4" y2="644.2" stroke="#4d4947" stroke-width="0.5"/>
<rect x="347.2" y="653.6" width="15.9" height="8.9" rx="1" fill="#f4f4f4" stroke="#3b3735" stroke-width="1.0"/>
<circle cx="351.8" cy="658.1" r="2.6" fill="#fff" stroke="#3b3735" stroke-width="0.7"/>
<circle cx="351.8" cy="658.1" r="1.2" fill="#fff" stroke="#3b3735" stroke-width="0.6"/>
<rect x="347.2" y="662.5" width="20.5" height="5" rx="0.8" fill="#fff" stroke="#3b3735" stroke-width="1.0"/>
<rect x="364.7" y="653.6" width="14.3" height="34.7" fill="#f6f6f6" stroke="#3b3735" stroke-width="1.1"/>
<rect x="355.9" y="688.3" width="31.4" height="15.3" rx="3.5" fill="url(#gk)" stroke="#3b3735" stroke-width="1.4"/>
<text x="39.5" y="492.9" font-size="18.5" text-anchor="start" fill="#1b9de2" stroke="#1b9de2" stroke-width="0.45" textLength="72.8" lengthAdjust="spacingAndGlyphs">LXXFG40</text>
<line x1="175" y1="622.9" x2="292" y2="622.9" stroke="#4d4947" stroke-width="0.5" stroke-dasharray="5 1.2 1 1.2"/>
<line x1="208.9" y1="594" x2="208.9" y2="658" stroke="#4d4947" stroke-width="0.5" stroke-dasharray="5 1.2 1 1.2"/>
<line x1="165.7" y1="622.9" x2="175.7" y2="622.9" stroke="#4d4947" stroke-width="0.5"/>
<line x1="170.7" y1="617.9" x2="170.7" y2="627.9" stroke="#4d4947" stroke-width="0.5"/>
<line x1="242.2" y1="622.9" x2="252.2" y2="622.9" stroke="#4d4947" stroke-width="0.5"/>
<line x1="247.2" y1="617.9" x2="247.2" y2="627.9" stroke="#4d4947" stroke-width="0.5"/>
<line x1="202" y1="673.5" x2="215.9" y2="673.5" stroke="#3b3735" stroke-width="0.8"/>
<line x1="197.5" y1="690.5" x2="197.5" y2="701" stroke="#3b3735" stroke-width="0.6"/>
<line x1="199.5" y1="691.5" x2="199.5" y2="699" stroke="#4d4947" stroke-width="0.5"/>
<line x1="208.7" y1="655" x2="208.7" y2="719" stroke="#4d4947" stroke-width="0.5" stroke-dasharray="2 1.2"/>
<line x1="162.8" y1="528.2" x2="162.8" y2="575" stroke="#4d4947" stroke-width="0.6"/>
<line x1="255.3" y1="528.2" x2="255.3" y2="575" stroke="#4d4947" stroke-width="0.6"/>
<line x1="162.8" y1="530.3" x2="255.3" y2="530.3" stroke="#4d4947" stroke-width="0.6"/>
<polygon points="162.8,530.3 168,529.15 168,531.45" fill="#4d4947"/>
<polygon points="255.3,530.3 250.1,531.45 250.1,529.15" fill="#4d4947"/>
<text x="210.4" y="527.6" font-size="11.5" text-anchor="middle" fill="#231f20" stroke="#231f20" stroke-width="0.3" textLength="12.5" lengthAdjust="spacingAndGlyphs">60</text>
<line x1="170.3" y1="544.4" x2="170.3" y2="577" stroke="#4d4947" stroke-width="0.6"/>
<line x1="247.4" y1="544.4" x2="247.4" y2="577" stroke="#4d4947" stroke-width="0.6"/>
<line x1="170.3" y1="546.6" x2="247.4" y2="546.6" stroke="#4d4947" stroke-width="0.6"/>
<polygon points="170.3,546.6 175.5,545.45 175.5,547.75" fill="#4d4947"/>
<polygon points="247.4,546.6 242.2,547.75 242.2,545.45" fill="#4d4947"/>
<text x="210.4" y="543.8" font-size="11.5" text-anchor="middle" fill="#231f20" stroke="#231f20" stroke-width="0.3" textLength="12.5" lengthAdjust="spacingAndGlyphs">50</text>
<line x1="178.2" y1="560.4" x2="178.2" y2="590.5" stroke="#4d4947" stroke-width="0.6"/>
<line x1="239.8" y1="560.4" x2="239.8" y2="590.5" stroke="#4d4947" stroke-width="0.6"/>
<line x1="178.2" y1="562.5" x2="239.8" y2="562.5" stroke="#4d4947" stroke-width="0.6"/>
<polygon points="178.2,562.5 183.4,561.35 183.4,563.65" fill="#4d4947"/>
<polygon points="239.8,562.5 234.6,563.65 234.6,561.35" fill="#4d4947"/>
<text x="210.4" y="559.9" font-size="11.5" text-anchor="middle" fill="#231f20" stroke="#231f20" stroke-width="0.3" textLength="12.5" lengthAdjust="spacingAndGlyphs">40</text>
<line x1="114.8" y1="576.6" x2="161.5" y2="576.6" stroke="#4d4947" stroke-width="0.6"/>
<line x1="114.8" y1="669" x2="152" y2="669" stroke="#4d4947" stroke-width="0.6"/>
<line x1="116.6" y1="576.6" x2="116.6" y2="669" stroke="#4d4947" stroke-width="0.6"/>
<polygon points="116.6,576.6 117.75,581.8 115.45,581.8" fill="#4d4947"/>
<polygon points="116.6,669 115.45,663.8 117.75,663.8" fill="#4d4947"/>
<text x="114" y="621.4" font-size="11.5" text-anchor="middle" fill="#231f20" stroke="#231f20" stroke-width="0.3" transform="rotate(-90 114 621.4)" textLength="12.5" lengthAdjust="spacingAndGlyphs">60</text>
<line x1="130.7" y1="584.6" x2="164" y2="584.6" stroke="#4d4947" stroke-width="0.6"/>
<line x1="130.7" y1="661.2" x2="164" y2="661.2" stroke="#4d4947" stroke-width="0.6"/>
<line x1="132.7" y1="584.6" x2="132.7" y2="661.2" stroke="#4d4947" stroke-width="0.6"/>
<polygon points="132.7,584.6 133.85,589.8 131.55,589.8" fill="#4d4947"/>
<polygon points="132.7,661.2 131.55,656 133.85,656" fill="#4d4947"/>
<text x="130.1" y="621.4" font-size="11.5" text-anchor="middle" fill="#231f20" stroke="#231f20" stroke-width="0.3" transform="rotate(-90 130.1 621.4)" textLength="12.5" lengthAdjust="spacingAndGlyphs">50</text>
<line x1="146.6" y1="592.2" x2="176.5" y2="592.2" stroke="#4d4947" stroke-width="0.6"/>
<line x1="146.6" y1="653.3" x2="176.5" y2="653.3" stroke="#4d4947" stroke-width="0.6"/>
<line x1="148.6" y1="592.2" x2="148.6" y2="653.3" stroke="#4d4947" stroke-width="0.6"/>
<polygon points="148.6,592.2 149.75,597.4 147.45,597.4" fill="#4d4947"/>
<polygon points="148.6,653.3 147.45,648.1 149.75,648.1" fill="#4d4947"/>
<text x="146.2" y="621.4" font-size="11.5" text-anchor="middle" fill="#231f20" stroke="#231f20" stroke-width="0.3" transform="rotate(-90 146.2 621.4)" textLength="12.5" lengthAdjust="spacingAndGlyphs">40</text>
<line x1="114.8" y1="703.4" x2="192" y2="703.4" stroke="#4d4947" stroke-width="0.6"/>
<line x1="116.9" y1="669" x2="116.9" y2="703.4" stroke="#4d4947" stroke-width="0.6"/>
<polygon points="116.9,669 118.05,674.2 115.75,674.2" fill="#4d4947"/>
<polygon points="116.9,703.4 115.75,698.2 118.05,698.2" fill="#4d4947"/>
<text x="114" y="685.8" font-size="11.5" text-anchor="middle" fill="#231f20" stroke="#231f20" stroke-width="0.3" transform="rotate(-90 114 685.8)" textLength="12.5" lengthAdjust="spacingAndGlyphs">23</text>
<line x1="184.6" y1="650" x2="184.6" y2="719.2" stroke="#4d4947" stroke-width="0.6"/>
<line x1="233.1" y1="650" x2="233.1" y2="719.2" stroke="#4d4947" stroke-width="0.6"/>
<line x1="184.6" y1="717.3" x2="208.7" y2="717.3" stroke="#4d4947" stroke-width="0.6"/>
<polygon points="184.6,717.3 189.8,716.15 189.8,718.45" fill="#4d4947"/>
<polygon points="208.7,717.3 203.5,718.45 203.5,716.15" fill="#4d4947"/>
<text x="196.5" y="715.2" font-size="11.5" text-anchor="middle" fill="#231f20" stroke="#231f20" stroke-width="0.3" textLength="12" lengthAdjust="spacingAndGlyphs">16</text>
<line x1="208.7" y1="717.3" x2="233.1" y2="717.3" stroke="#4d4947" stroke-width="0.6"/>
<polygon points="208.7,717.3 213.9,716.15 213.9,718.45" fill="#4d4947"/>
<polygon points="233.1,717.3 227.9,718.45 227.9,716.15" fill="#4d4947"/>
<text x="222.6" y="715.2" font-size="11.5" text-anchor="middle" fill="#231f20" stroke="#231f20" stroke-width="0.3" textLength="12" lengthAdjust="spacingAndGlyphs">16</text>
<line x1="236" y1="598.4" x2="290.5" y2="598.4" stroke="#4d4947" stroke-width="0.6"/>
<line x1="236" y1="647.3" x2="290.5" y2="647.3" stroke="#4d4947" stroke-width="0.6"/>
<line x1="288.2" y1="598.4" x2="288.2" y2="622.9" stroke="#4d4947" stroke-width="0.6"/>
<polygon points="288.2,598.4 289.35,603.6 287.05,603.6" fill="#4d4947"/>
<polygon points="288.2,622.9 287.05,617.7 289.35,617.7" fill="#4d4947"/>
<text x="285.2" y="609.5" font-size="11.5" text-anchor="middle" fill="#231f20" stroke="#231f20" stroke-width="0.3" transform="rotate(-90 285.2 609.5)" textLength="12" lengthAdjust="spacingAndGlyphs">16</text>
<line x1="288.2" y1="622.9" x2="288.2" y2="647.3" stroke="#4d4947" stroke-width="0.6"/>
<polygon points="288.2,622.9 289.35,628.1 287.05,628.1" fill="#4d4947"/>
<polygon points="288.2,647.3 287.05,642.1 289.35,642.1" fill="#4d4947"/>
<text x="285.2" y="634" font-size="11.5" text-anchor="middle" fill="#231f20" stroke="#231f20" stroke-width="0.3" transform="rotate(-90 285.2 634)" textLength="12" lengthAdjust="spacingAndGlyphs">16</text>
<line x1="216.4" y1="606.3" x2="273.6" y2="606.3" stroke="#4d4947" stroke-width="0.6"/>
<line x1="216.4" y1="639.4" x2="273.6" y2="639.4" stroke="#4d4947" stroke-width="0.6"/>
<line x1="271.5" y1="606.3" x2="271.5" y2="639.4" stroke="#4d4947" stroke-width="0.6"/>
<polygon points="271.5,606.3 272.65,611.5 270.35,611.5" fill="#4d4947"/>
<polygon points="271.5,639.4 270.35,634.2 272.65,634.2" fill="#4d4947"/>
<text x="270.2" y="621.4" font-size="11.5" text-anchor="middle" fill="#231f20" stroke="#231f20" stroke-width="0.3" transform="rotate(-90 270.2 621.4)" textLength="12" lengthAdjust="spacingAndGlyphs">22</text>
<text x="56.4" y="517.3" font-size="11.5" text-anchor="start" fill="#231f20" stroke="#231f20" stroke-width="0.3" textLength="56" lengthAdjust="spacingAndGlyphs">4—φ4.5通孔</text>
<polyline points="55,519.2 137,519.2 166.6,578.6" fill="none" stroke="#4d4947" stroke-width="0.6" stroke-linejoin="miter"/>
<polygon points="166.6,578.6 163.25,574.46 165.31,573.43" fill="#4d4947"/>
<text x="56.4" y="532.6" font-size="11.5" text-anchor="start" fill="#231f20" stroke="#231f20" stroke-width="0.3" textLength="82.5" lengthAdjust="spacingAndGlyphs">φ8沉孔、深度4.5</text>
<text x="70.6" y="548.2" font-size="11.5" text-anchor="start" fill="#231f20" stroke="#231f20" stroke-width="0.3" textLength="65.4" lengthAdjust="spacingAndGlyphs">10—M3深度6</text>
<polyline points="70.6,550.4 136,550.4 182.6,620.6" fill="none" stroke="#4d4947" stroke-width="0.6" stroke-linejoin="miter"/>
<polygon points="182.6,620.6 178.77,616.9 180.68,615.63" fill="#4d4947"/>
<text x="287.7" y="527.4" font-size="11.5" text-anchor="start" fill="#231f20" stroke="#231f20" stroke-width="0.3" textLength="70.5" lengthAdjust="spacingAndGlyphs">M16×P1深度6</text>
<polyline points="359,529.7 283.7,529.7 217.3,612.2" fill="none" stroke="#4d4947" stroke-width="0.6" stroke-linejoin="miter"/>
<polygon points="217.3,612.2 219.66,607.43 221.46,608.87" fill="#4d4947"/>
<text x="269.9" y="570.2" font-size="11.5" text-anchor="start" fill="#231f20" stroke="#231f20" stroke-width="0.3" textLength="54.5" lengthAdjust="spacingAndGlyphs">4—M3深度6</text>
<polyline points="269,572.1 324.4,572.1 345.4,604" fill="none" stroke="#4d4947" stroke-width="0.6" stroke-linejoin="miter"/>
<polygon points="345.4,604 341.58,600.29 343.5,599.02" fill="#4d4947"/>
<text x="271.6" y="585.9" font-size="10.5" text-anchor="start" fill="#231f20" stroke="#231f20" stroke-width="0.3" textLength="48" lengthAdjust="spacingAndGlyphs">(反面相同)</text>
<line x1="209.15" y1="745.38" x2="209.15" y2="754.1" stroke="#3b3735" stroke-width="1.6"/>
<line x1="190" y1="769.6" x2="228" y2="769.6" stroke="#4d4947" stroke-width="0.5" stroke-dasharray="4 1.2 1 1.2"/>
<line x1="209" y1="742" x2="209" y2="794" stroke="#4d4947" stroke-width="0.5" stroke-dasharray="4 1.2 1 1.2"/>
<line x1="170.6" y1="778" x2="170.6" y2="794" stroke="#4d4947" stroke-width="0.5" stroke-dasharray="3 1 1 1"/>
<line x1="247.3" y1="778" x2="247.3" y2="794" stroke="#4d4947" stroke-width="0.5" stroke-dasharray="3 1 1 1"/>
<line x1="109.8" y1="736.9" x2="174.3" y2="736.9" stroke="#4d4947" stroke-width="0.6"/>
<line x1="109.8" y1="791" x2="158.4" y2="791" stroke="#4d4947" stroke-width="0.6"/>
<line x1="111.8" y1="736.9" x2="111.8" y2="791" stroke="#4d4947" stroke-width="0.6"/>
<polygon points="111.8,736.9 112.95,742.1 110.65,742.1" fill="#4d4947"/>
<polygon points="111.8,791 110.65,785.8 112.95,785.8" fill="#4d4947"/>
<text x="109.2" y="762.4" font-size="11.5" text-anchor="middle" fill="#231f20" stroke="#231f20" stroke-width="0.3" transform="rotate(-90 109.2 762.4)" textLength="12.5" lengthAdjust="spacingAndGlyphs">35</text>
<line x1="125.7" y1="781.5" x2="158.4" y2="781.5" stroke="#4d4947" stroke-width="0.6"/>
<line x1="127.7" y1="770.6" x2="127.7" y2="802.3" stroke="#4d4947" stroke-width="0.6"/>
<polygon points="127.7,781.5 126.55,776.3 128.85,776.3" fill="#4d4947"/>
<polygon points="127.7,791 128.85,796.2 126.55,796.2" fill="#4d4947"/>
<text x="125.8" y="784.6" font-size="11.5" text-anchor="middle" fill="#231f20" stroke="#231f20" stroke-width="0.3" transform="rotate(-90 125.8 784.6)" textLength="6.2" lengthAdjust="spacingAndGlyphs">6</text>
<line x1="240.5" y1="769.6" x2="275.2" y2="769.6" stroke="#4d4947" stroke-width="0.6"/>
<line x1="259.7" y1="790.6" x2="275.2" y2="790.6" stroke="#4d4947" stroke-width="0.6"/>
<line x1="273.2" y1="769.6" x2="273.2" y2="790.6" stroke="#4d4947" stroke-width="0.6"/>
<polygon points="273.2,769.6 274.35,774.8 272.05,774.8" fill="#4d4947"/>
<polygon points="273.2,790.6 272.05,785.4 274.35,785.4" fill="#4d4947"/>
<text x="269" y="779.8" font-size="10" text-anchor="middle" fill="#231f20" stroke="#231f20" stroke-width="0.3" transform="rotate(-90 269 779.8)" textLength="17.5" lengthAdjust="spacingAndGlyphs">13.9</text>
<line x1="381" y1="584.6" x2="397" y2="584.6" stroke="#4d4947" stroke-width="0.5" stroke-dasharray="3 1 1 1"/>
<line x1="381" y1="661.5" x2="397" y2="661.5" stroke="#4d4947" stroke-width="0.5" stroke-dasharray="3 1 1 1"/>
<polyline points="353.77,592.45 353.77,611.28 363.09,606.33 363.09,618.22" fill="none" stroke="#3b3735" stroke-width="1.1" stroke-linejoin="miter"/>
<polyline points="363.09,628.83 363.09,636.76 353.77,633.39 353.77,641.32 363.09,641.32" fill="none" stroke="#3b3735" stroke-width="1.1" stroke-linejoin="miter"/>
<line x1="353.77" y1="633.39" x2="353.77" y2="653.62" stroke="#3b3735" stroke-width="1.1"/>
<line x1="363.09" y1="618.22" x2="363.09" y2="627.74" stroke="#3b3735" stroke-width="0.8"/>
<line x1="371.4" y1="655" x2="371.4" y2="712" stroke="#4d4947" stroke-width="0.5" stroke-dasharray="2 1.2"/>
<line x1="357.8" y1="651" x2="357.8" y2="671" stroke="#4d4947" stroke-width="0.5" stroke-dasharray="2 1"/>
<line x1="364.7" y1="672.6" x2="379" y2="672.6" stroke="#3b3735" stroke-width="0.8"/>
<line x1="382.8" y1="690.5" x2="382.8" y2="701.3" stroke="#3b3735" stroke-width="0.6"/>
<line x1="380.6" y1="691.5" x2="380.6" y2="697" stroke="#4d4947" stroke-width="0.5"/>
<line x1="346.6" y1="558" x2="346.6" y2="601" stroke="#4d4947" stroke-width="0.6"/>
<line x1="371.4" y1="558" x2="371.4" y2="601" stroke="#4d4947" stroke-width="0.6"/>
<line x1="392.6" y1="558" x2="392.6" y2="576" stroke="#4d4947" stroke-width="0.6"/>
<line x1="346.6" y1="560.3" x2="371.4" y2="560.3" stroke="#4d4947" stroke-width="0.6"/>
<polygon points="346.6,560.3 351.8,559.15 351.8,561.45" fill="#4d4947"/>
<polygon points="371.4,560.3 366.2,561.45 366.2,559.15" fill="#4d4947"/>
<text x="360.7" y="557.6" font-size="11.5" text-anchor="middle" fill="#231f20" stroke="#231f20" stroke-width="0.3" textLength="12" lengthAdjust="spacingAndGlyphs">16</text>
<line x1="371.4" y1="560.3" x2="392.6" y2="560.3" stroke="#4d4947" stroke-width="0.6"/>
<polygon points="371.4,560.3 376.6,559.15 376.6,561.45" fill="#4d4947"/>
<polygon points="392.6,560.3 387.4,561.45 387.4,559.15" fill="#4d4947"/>
<text x="384.3" y="557.6" font-size="11.5" text-anchor="middle" fill="#231f20" stroke="#231f20" stroke-width="0.3" textLength="12" lengthAdjust="spacingAndGlyphs">14</text>
<line x1="378" y1="605.9" x2="416" y2="605.9" stroke="#4d4947" stroke-width="0.6"/>
<line x1="378" y1="639.7" x2="416" y2="639.7" stroke="#4d4947" stroke-width="0.6"/>
<line x1="414" y1="605.9" x2="414" y2="639.7" stroke="#4d4947" stroke-width="0.6"/>
<polygon points="414,605.9 415.15,611.1 412.85,611.1" fill="#4d4947"/>
<polygon points="414,639.7 412.85,634.5 415.15,634.5" fill="#4d4947"/>
<text x="411.8" y="620.4" font-size="11.5" text-anchor="middle" fill="#231f20" stroke="#231f20" stroke-width="0.3" transform="rotate(-90 411.8 620.4)" textLength="12" lengthAdjust="spacingAndGlyphs">22</text>
<line x1="356.2" y1="706.2" x2="356.2" y2="728.6" stroke="#4d4947" stroke-width="0.6"/>
<line x1="387" y1="706.2" x2="387" y2="728.6" stroke="#4d4947" stroke-width="0.6"/>
<line x1="356.2" y1="727" x2="387" y2="727" stroke="#4d4947" stroke-width="0.6"/>
<polygon points="356.2,727 361.4,725.85 361.4,728.15" fill="#4d4947"/>
<polygon points="387,727 381.8,728.15 381.8,725.85" fill="#4d4947"/>
<text x="371.7" y="723" font-size="11.5" text-anchor="middle" fill="#231f20" stroke="#231f20" stroke-width="0.3" textLength="21.5" lengthAdjust="spacingAndGlyphs">φ20</text>
<text x="293.7" y="688.3" font-size="11.5" text-anchor="start" fill="#231f20" stroke="#231f20" stroke-width="0.3" textLength="34.5" lengthAdjust="spacingAndGlyphs">固定夹</text>
<polyline points="293,691 329.5,691 346.4,666.2" fill="none" stroke="#4d4947" stroke-width="0.6" stroke-linejoin="miter"/>
<text x="290.8" y="718.7" font-size="11.5" text-anchor="start" fill="#231f20" stroke="#231f20" stroke-width="0.3" textLength="45.2" lengthAdjust="spacingAndGlyphs">进给旋钮</text>
<polyline points="289.6,722.5 338.4,722.5 355.4,696.8" fill="none" stroke="#4d4947" stroke-width="0.6" stroke-linejoin="miter"/>
<text stroke="#231f20" stroke-width="0.25" x="54" y="821" font-size="11.2" text-anchor="start" fill="#231f20" textLength="285.5" lengthAdjust="spacingAndGlyphs" font-weight="500">*1 XFG60的进给旋钮为两侧联动，可从任意侧进行操作。</text>
</g>
<g id="lxxfg60">
<rect x="542.5" y="538.4" width="47" height="15.9" rx="3" fill="url(#gk)" stroke="#3b3735" stroke-width="1.5"/>
<path d="M543.7 540.9 h5.5 l-2 5 l-1 7.4 h-2.5 Z" fill="#6d6a68"/>

<rect x="553.8" y="554.3" width="24" height="8.6" rx="1" fill="#f4f4f4" stroke="#3b3735" stroke-width="1.1"/>
<rect x="558.4" y="562.8" width="15.9" height="10.4" fill="#f4f4f4" stroke="#3b3735" stroke-width="1.1"/>
<rect x="503.6" y="558.6" width="123.2" height="122.6" rx="1.5" fill="none" stroke="#3b3735" stroke-width="1.3"/>
<rect x="558.4" y="559.2" width="15.9" height="14" fill="#f6f6f6" stroke="#3b3735" stroke-width="1.1"/>
<rect x="553.8" y="554.3" width="24" height="8.6" rx="1" fill="#f6f6f6" stroke="#3b3735" stroke-width="1.1"/>
<rect x="558.5" y="665.5" width="15.6" height="11" fill="#f6f6f6" stroke="#3b3735" stroke-width="1.1"/>
<rect x="554.5" y="675.7" width="23.2" height="10" rx="1" fill="#f6f6f6" stroke="#3b3735" stroke-width="1.1"/>
<rect x="542.6" y="685.6" width="46.6" height="15.3" rx="3" fill="url(#gk)" stroke="#3b3735" stroke-width="1.5"/>
<path d="M543.8 688.1 h5.5 l-2 5 l-1 6.8 h-2.5 Z" fill="#6d6a68"/>

<rect x="524.6" y="665.5" width="4.4" height="4.5" fill="#fff" stroke="#3b3735" stroke-width="0.8"/>
<rect x="517.6" y="669.7" width="19.4" height="10.2" rx="2.5" fill="#f0f0f0" stroke="#3b3735" stroke-width="1.3"/>
<path d="M518.6 671.5 h5.5 l-1.5 7 h-4 Z" fill="#6d6a68"/>
<rect x="601.7" y="665.5" width="4.4" height="4.5" fill="#fff" stroke="#3b3735" stroke-width="0.8"/>
<rect x="594.7" y="669.7" width="19.4" height="10.2" rx="2.5" fill="#f0f0f0" stroke="#3b3735" stroke-width="1.3"/>
<path d="M595.7 671.5 h5.5 l-1.5 7 h-4 Z" fill="#6d6a68"/>
<circle cx="511.4" cy="566.2" r="6.3" fill="#f4f4f4" stroke="#3b3735" stroke-width="1.1"/>
<circle cx="511.4" cy="566.2" r="3.5" fill="#fff" stroke="#3b3735" stroke-width="0.9"/>
<line x1="502.9" y1="566.2" x2="519.9" y2="566.2" stroke="#4d4947" stroke-width="0.5"/>
<line x1="511.4" y1="557.7" x2="511.4" y2="574.7" stroke="#4d4947" stroke-width="0.5"/>
<circle cx="511.4" cy="673.5" r="6.3" fill="#f4f4f4" stroke="#3b3735" stroke-width="1.1"/>
<circle cx="511.4" cy="673.5" r="3.5" fill="#fff" stroke="#3b3735" stroke-width="0.9"/>
<line x1="502.9" y1="673.5" x2="519.9" y2="673.5" stroke="#4d4947" stroke-width="0.5"/>
<line x1="511.4" y1="665" x2="511.4" y2="682" stroke="#4d4947" stroke-width="0.5"/>
<circle cx="618.9" cy="566.2" r="6.3" fill="#f4f4f4" stroke="#3b3735" stroke-width="1.1"/>
<circle cx="618.9" cy="566.2" r="3.5" fill="#fff" stroke="#3b3735" stroke-width="0.9"/>
<line x1="610.4" y1="566.2" x2="627.4" y2="566.2" stroke="#4d4947" stroke-width="0.5"/>
<line x1="618.9" y1="557.7" x2="618.9" y2="574.7" stroke="#4d4947" stroke-width="0.5"/>
<circle cx="618.9" cy="673.5" r="6.3" fill="#f4f4f4" stroke="#3b3735" stroke-width="1.1"/>
<circle cx="618.9" cy="673.5" r="3.5" fill="#fff" stroke="#3b3735" stroke-width="0.9"/>
<line x1="610.4" y1="673.5" x2="627.4" y2="673.5" stroke="#4d4947" stroke-width="0.5"/>
<line x1="618.9" y1="665" x2="618.9" y2="682" stroke="#4d4947" stroke-width="0.5"/>
<rect x="519.3" y="573.2" width="92.1" height="92.3" rx="0.8" fill="#fcfcfc" stroke="#3b3735" stroke-width="1.3"/>
<circle cx="565.6" cy="619.7" r="12.3" fill="#fff" stroke="#3b3735" stroke-width="1.2"/>
<circle cx="526.8" cy="581.1" r="2.8" fill="#f0f0f0" stroke="#3b3735" stroke-width="0.9"/>
<line x1="521.3" y1="581.1" x2="532.3" y2="581.1" stroke="#4d4947" stroke-width="0.5"/>
<line x1="526.8" y1="575.6" x2="526.8" y2="586.6" stroke="#4d4947" stroke-width="0.5"/>
<circle cx="526.8" cy="619.7" r="2.8" fill="#f0f0f0" stroke="#3b3735" stroke-width="0.9"/>
<line x1="521.3" y1="619.7" x2="532.3" y2="619.7" stroke="#4d4947" stroke-width="0.5"/>
<line x1="526.8" y1="614.2" x2="526.8" y2="625.2" stroke="#4d4947" stroke-width="0.5"/>
<circle cx="526.8" cy="658.1" r="2.8" fill="#f0f0f0" stroke="#3b3735" stroke-width="0.9"/>
<line x1="521.3" y1="658.1" x2="532.3" y2="658.1" stroke="#4d4947" stroke-width="0.5"/>
<line x1="526.8" y1="652.6" x2="526.8" y2="663.6" stroke="#4d4947" stroke-width="0.5"/>
<circle cx="565.6" cy="581.1" r="2.8" fill="#f0f0f0" stroke="#3b3735" stroke-width="0.9"/>
<line x1="560.1" y1="581.1" x2="571.1" y2="581.1" stroke="#4d4947" stroke-width="0.5"/>
<line x1="565.6" y1="575.6" x2="565.6" y2="586.6" stroke="#4d4947" stroke-width="0.5"/>
<circle cx="565.6" cy="658.1" r="2.8" fill="#f0f0f0" stroke="#3b3735" stroke-width="0.9"/>
<line x1="560.1" y1="658.1" x2="571.1" y2="658.1" stroke="#4d4947" stroke-width="0.5"/>
<line x1="565.6" y1="652.6" x2="565.6" y2="663.6" stroke="#4d4947" stroke-width="0.5"/>
<circle cx="604" cy="581.1" r="2.8" fill="#f0f0f0" stroke="#3b3735" stroke-width="0.9"/>
<line x1="598.5" y1="581.1" x2="609.5" y2="581.1" stroke="#4d4947" stroke-width="0.5"/>
<line x1="604" y1="575.6" x2="604" y2="586.6" stroke="#4d4947" stroke-width="0.5"/>
<circle cx="604" cy="619.7" r="2.8" fill="#f0f0f0" stroke="#3b3735" stroke-width="0.9"/>
<line x1="598.5" y1="619.7" x2="609.5" y2="619.7" stroke="#4d4947" stroke-width="0.5"/>
<line x1="604" y1="614.2" x2="604" y2="625.2" stroke="#4d4947" stroke-width="0.5"/>
<circle cx="604" cy="658.1" r="2.8" fill="#f0f0f0" stroke="#3b3735" stroke-width="0.9"/>
<line x1="598.5" y1="658.1" x2="609.5" y2="658.1" stroke="#4d4947" stroke-width="0.5"/>
<line x1="604" y1="652.6" x2="604" y2="663.6" stroke="#4d4947" stroke-width="0.5"/>
<circle cx="540.7" cy="595.5" r="2" fill="#777" stroke="#3b3735" stroke-width="0.8"/>
<line x1="536.2" y1="595.5" x2="545.2" y2="595.5" stroke="#4d4947" stroke-width="0.5"/>
<line x1="540.7" y1="591" x2="540.7" y2="600" stroke="#4d4947" stroke-width="0.5"/>
<circle cx="540.7" cy="644.7" r="2" fill="#777" stroke="#3b3735" stroke-width="0.8"/>
<line x1="536.2" y1="644.7" x2="545.2" y2="644.7" stroke="#4d4947" stroke-width="0.5"/>
<line x1="540.7" y1="640.2" x2="540.7" y2="649.2" stroke="#4d4947" stroke-width="0.5"/>
<circle cx="590" cy="595.5" r="2" fill="#777" stroke="#3b3735" stroke-width="0.8"/>
<line x1="585.5" y1="595.5" x2="594.5" y2="595.5" stroke="#4d4947" stroke-width="0.5"/>
<line x1="590" y1="591" x2="590" y2="600" stroke="#4d4947" stroke-width="0.5"/>
<circle cx="590" cy="644.7" r="2" fill="#777" stroke="#3b3735" stroke-width="0.8"/>
<line x1="585.5" y1="644.7" x2="594.5" y2="644.7" stroke="#4d4947" stroke-width="0.5"/>
<line x1="590" y1="640.2" x2="590" y2="649.2" stroke="#4d4947" stroke-width="0.5"/>
<rect x="519.2" y="736.9" width="92.2" height="51.1" fill="#fcfcfc" stroke="#3b3735" stroke-width="1.3"/>
<rect x="503.4" y="788" width="123.4" height="8.9" rx="2" fill="#f4f4f4" stroke="#3b3735" stroke-width="1.3"/>
<circle cx="526.6" cy="758.1" r="8.9" fill="#fbfbfb" stroke="#3b3735" stroke-width="1.2"/>
<circle cx="603.7" cy="758.1" r="8.9" fill="#fbfbfb" stroke="#3b3735" stroke-width="1.2"/>
<circle cx="539" cy="756.7" r="1.9" fill="#fff" stroke="#3b3735" stroke-width="0.9"/>
<circle cx="592" cy="756.7" r="1.9" fill="#fff" stroke="#3b3735" stroke-width="0.9"/>
<circle cx="566.2" cy="772.5" r="22.8" fill="#f1f1f1" stroke="#3b3735" stroke-width="1.3"/>
<rect x="505.6" y="790" width="10.5" height="5.5" rx="2" fill="none" stroke="#4d4947" stroke-width="0.6" stroke-dasharray="1.6 1.1"/>
<rect x="614" y="790" width="10.5" height="5.5" rx="2" fill="none" stroke="#4d4947" stroke-width="0.6" stroke-dasharray="1.6 1.1"/>
<rect x="760.6" y="538.4" width="46.6" height="15.3" rx="3" fill="url(#gk)" stroke="#3b3735" stroke-width="1.5"/>
<path d="M806 540.9 h-5.5 l2 5 l1 6.8 h2.5 Z" fill="#6d6a68"/>

<rect x="771.9" y="553.7" width="23.4" height="8.9" rx="1" fill="#f6f6f6" stroke="#3b3735" stroke-width="1.1"/>
<rect x="775.5" y="562.6" width="16.9" height="10.6" fill="#f6f6f6" stroke="#3b3735" stroke-width="1.0"/>
<rect x="779.3" y="562.6" width="9.2" height="10.6" fill="#fff" stroke="#3b3735" stroke-width="0.7"/>
<rect x="747.2" y="573.3" width="51.5" height="92.4" fill="#fcfcfc" stroke="#3b3735" stroke-width="1.3"/>
<path d="M798.7 681.2 V560.6 a2 2 0 0 1 2 -2 h5.1 a2 2 0 0 1 2 2 V679.2 a2 2 0 0 1 -2 2 Z" fill="#f4f4f4" stroke="#3b3735" stroke-width="1.3"/>
<rect x="800.7" y="560.8" width="5.2" height="12" fill="none" stroke="#4d4947" stroke-width="0.5" stroke-dasharray="1.6 1.1"/>
<rect x="800.7" y="667.5" width="5.2" height="12" fill="none" stroke="#4d4947" stroke-width="0.5" stroke-dasharray="1.6 1.1"/>
<rect x="771.15" y="615.51" width="8.33" height="8.92" fill="#fff" stroke="#3b3735" stroke-width="1.0"/>
<circle cx="755.1" cy="589.1" r="2.6" fill="#f0f0f0" stroke="#3b3735" stroke-width="0.9"/>
<line x1="750.1" y1="589.1" x2="760.1" y2="589.1" stroke="#4d4947" stroke-width="0.5"/>
<line x1="755.1" y1="584.1" x2="755.1" y2="594.1" stroke="#4d4947" stroke-width="0.5"/>
<circle cx="755.1" cy="650.6" r="2.6" fill="#f0f0f0" stroke="#3b3735" stroke-width="0.9"/>
<line x1="750.1" y1="650.6" x2="760.1" y2="650.6" stroke="#4d4947" stroke-width="0.5"/>
<line x1="755.1" y1="645.6" x2="755.1" y2="655.6" stroke="#4d4947" stroke-width="0.5"/>
<circle cx="783.4" cy="589.1" r="2.6" fill="#f0f0f0" stroke="#3b3735" stroke-width="0.9"/>
<line x1="778.4" y1="589.1" x2="788.4" y2="589.1" stroke="#4d4947" stroke-width="0.5"/>
<line x1="783.4" y1="584.1" x2="783.4" y2="594.1" stroke="#4d4947" stroke-width="0.5"/>
<circle cx="783.4" cy="650.6" r="2.6" fill="#f0f0f0" stroke="#3b3735" stroke-width="0.9"/>
<line x1="778.4" y1="650.6" x2="788.4" y2="650.6" stroke="#4d4947" stroke-width="0.5"/>
<line x1="783.4" y1="645.6" x2="783.4" y2="655.6" stroke="#4d4947" stroke-width="0.5"/>
<rect x="777.5" y="665.8" width="14.9" height="10.9" fill="#f6f6f6" stroke="#3b3735" stroke-width="1.0"/>
<rect x="779.3" y="665.8" width="8.6" height="10.9" fill="#fff" stroke="#3b3735" stroke-width="0.7"/>
<rect x="767" y="665.8" width="4.5" height="4" fill="#fff" stroke="#3b3735" stroke-width="0.8"/>
<rect x="759.7" y="669.7" width="18.4" height="10.5" rx="2.5" fill="#f0f0f0" stroke="#3b3735" stroke-width="1.3"/>
<path d="M777 671.5 h-5.5 l1.5 7 h4 Z" fill="#6d6a68"/>
<rect x="772" y="676.7" width="23.3" height="8.9" rx="1" fill="#f6f6f6" stroke="#3b3735" stroke-width="1.1"/>
<rect x="760.6" y="685.6" width="46" height="15.3" rx="3" fill="url(#gk)" stroke="#3b3735" stroke-width="1.5"/>
<path d="M805.4 688.1 h-5.5 l2 5 l1 6.8 h2.5 Z" fill="#6d6a68"/>

<text x="417.5" y="492.9" font-size="18.5" text-anchor="start" fill="#1b9de2" stroke="#1b9de2" stroke-width="0.45" textLength="71.8" lengthAdjust="spacingAndGlyphs">LXXFG60</text>
<text x="490.2" y="494.5" font-size="15" text-anchor="start" fill="#231f20" stroke="#231f20" stroke-width="0.3">*</text>
<line x1="548" y1="619.7" x2="584" y2="619.7" stroke="#4d4947" stroke-width="0.5" stroke-dasharray="5 1.2 1 1.2"/>
<line x1="565.6" y1="602" x2="565.6" y2="638" stroke="#4d4947" stroke-width="0.5" stroke-dasharray="5 1.2 1 1.2"/>
<line x1="565.6" y1="530" x2="565.6" y2="575" stroke="#4d4947" stroke-width="0.5" stroke-dasharray="2 1.2"/>
<line x1="565.6" y1="662" x2="565.6" y2="731" stroke="#4d4947" stroke-width="0.5" stroke-dasharray="2 1.2"/>
<line x1="503.6" y1="493.4" x2="503.6" y2="556" stroke="#4d4947" stroke-width="0.6"/>
<line x1="626.8" y1="493.4" x2="626.8" y2="556" stroke="#4d4947" stroke-width="0.6"/>
<line x1="503.6" y1="495.4" x2="626.8" y2="495.4" stroke="#4d4947" stroke-width="0.6"/>
<polygon points="503.6,495.4 508.8,494.25 508.8,496.55" fill="#4d4947"/>
<polygon points="626.8,495.4 621.6,496.55 621.6,494.25" fill="#4d4947"/>
<text x="566.6" y="493.4" font-size="11.5" text-anchor="middle" fill="#231f20" stroke="#231f20" stroke-width="0.3" textLength="12.8" lengthAdjust="spacingAndGlyphs">80</text>
<line x1="511.4" y1="509.6" x2="511.4" y2="557" stroke="#4d4947" stroke-width="0.6"/>
<line x1="618.9" y1="509.6" x2="618.9" y2="557" stroke="#4d4947" stroke-width="0.6"/>
<line x1="511.4" y1="511.6" x2="618.9" y2="511.6" stroke="#4d4947" stroke-width="0.6"/>
<polygon points="511.4,511.6 516.6,510.45 516.6,512.75" fill="#4d4947"/>
<polygon points="618.9,511.6 613.7,512.75 613.7,510.45" fill="#4d4947"/>
<text x="566.6" y="509.4" font-size="11.5" text-anchor="middle" fill="#231f20" stroke="#231f20" stroke-width="0.3" textLength="12.8" lengthAdjust="spacingAndGlyphs">70</text>
<line x1="519.3" y1="525.5" x2="519.3" y2="557" stroke="#4d4947" stroke-width="0.6"/>
<line x1="611.4" y1="525.5" x2="611.4" y2="557" stroke="#4d4947" stroke-width="0.6"/>
<line x1="519.3" y1="527.5" x2="611.4" y2="527.5" stroke="#4d4947" stroke-width="0.6"/>
<polygon points="519.3,527.5 524.5,526.35 524.5,528.65" fill="#4d4947"/>
<polygon points="611.4,527.5 606.2,528.65 606.2,526.35" fill="#4d4947"/>
<text x="566.6" y="525.4" font-size="11.5" text-anchor="middle" fill="#231f20" stroke="#231f20" stroke-width="0.3" textLength="12.8" lengthAdjust="spacingAndGlyphs">60</text>
<line x1="454.6" y1="539.4" x2="540" y2="539.4" stroke="#4d4947" stroke-width="0.6"/>
<line x1="454.6" y1="558.6" x2="502.5" y2="558.6" stroke="#4d4947" stroke-width="0.6"/>
<line x1="456.7" y1="539.4" x2="456.7" y2="558.6" stroke="#4d4947" stroke-width="0.6"/>
<polygon points="456.7,539.4 457.85,544.6 455.55,544.6" fill="#4d4947"/>
<polygon points="456.7,558.6 455.55,553.4 457.85,553.4" fill="#4d4947"/>
<text x="454.2" y="549" font-size="10.5" text-anchor="middle" fill="#231f20" stroke="#231f20" stroke-width="0.3" transform="rotate(-90 454.2 549)" textLength="10.8" lengthAdjust="spacingAndGlyphs">13</text>
<line x1="454.6" y1="681.2" x2="502.5" y2="681.2" stroke="#4d4947" stroke-width="0.6"/>
<line x1="454.6" y1="700.2" x2="540.5" y2="700.2" stroke="#4d4947" stroke-width="0.6"/>
<line x1="456.7" y1="558.6" x2="456.7" y2="681.2" stroke="#4d4947" stroke-width="0.6"/>
<polygon points="456.7,558.6 457.85,563.8 455.55,563.8" fill="#4d4947"/>
<polygon points="456.7,681.2 455.55,676 457.85,676" fill="#4d4947"/>
<text x="454.2" y="621" font-size="11.5" text-anchor="middle" fill="#231f20" stroke="#231f20" stroke-width="0.3" transform="rotate(-90 454.2 621)" textLength="12.8" lengthAdjust="spacingAndGlyphs">80</text>
<line x1="456.7" y1="681.2" x2="456.7" y2="700.2" stroke="#4d4947" stroke-width="0.6"/>
<polygon points="456.7,681.2 457.85,686.4 455.55,686.4" fill="#4d4947"/>
<polygon points="456.7,700.2 455.55,695 457.85,695" fill="#4d4947"/>
<text x="454.2" y="692.6" font-size="10.5" text-anchor="middle" fill="#231f20" stroke="#231f20" stroke-width="0.3" transform="rotate(-90 454.2 692.6)" textLength="10.8" lengthAdjust="spacingAndGlyphs">13</text>
<line x1="470.6" y1="566.4" x2="500.5" y2="566.4" stroke="#4d4947" stroke-width="0.6"/>
<line x1="470.6" y1="673.4" x2="500.5" y2="673.4" stroke="#4d4947" stroke-width="0.6"/>
<line x1="472.6" y1="566.4" x2="472.6" y2="673.4" stroke="#4d4947" stroke-width="0.6"/>
<polygon points="472.6,566.4 473.75,571.6 471.45,571.6" fill="#4d4947"/>
<polygon points="472.6,673.4 471.45,668.2 473.75,668.2" fill="#4d4947"/>
<text x="470.6" y="621" font-size="11.5" text-anchor="middle" fill="#231f20" stroke="#231f20" stroke-width="0.3" transform="rotate(-90 470.6 621)" textLength="12.8" lengthAdjust="spacingAndGlyphs">70</text>
<line x1="486.8" y1="573.2" x2="517.5" y2="573.2" stroke="#4d4947" stroke-width="0.6"/>
<line x1="486.8" y1="665.5" x2="517.5" y2="665.5" stroke="#4d4947" stroke-width="0.6"/>
<line x1="488.9" y1="573.2" x2="488.9" y2="665.5" stroke="#4d4947" stroke-width="0.6"/>
<polygon points="488.9,573.2 490.05,578.4 487.75,578.4" fill="#4d4947"/>
<polygon points="488.9,665.5 487.75,660.3 490.05,660.3" fill="#4d4947"/>
<text x="486.6" y="621" font-size="11.5" text-anchor="middle" fill="#231f20" stroke="#231f20" stroke-width="0.3" transform="rotate(-90 486.6 621)" textLength="12.8" lengthAdjust="spacingAndGlyphs">60</text>
<line x1="540.7" y1="640" x2="540.7" y2="716.2" stroke="#4d4947" stroke-width="0.6"/>
<line x1="590" y1="640" x2="590" y2="716.2" stroke="#4d4947" stroke-width="0.6"/>
<line x1="540.7" y1="714.3" x2="590" y2="714.3" stroke="#4d4947" stroke-width="0.6"/>
<polygon points="540.7,714.3 545.9,713.15 545.9,715.45" fill="#4d4947"/>
<polygon points="590,714.3 584.8,715.45 584.8,713.15" fill="#4d4947"/>
<text x="566.8" y="712.2" font-size="11.5" text-anchor="middle" fill="#231f20" stroke="#231f20" stroke-width="0.3" textLength="12.8" lengthAdjust="spacingAndGlyphs">32</text>
<line x1="526.8" y1="684" x2="526.8" y2="731.2" stroke="#4d4947" stroke-width="0.6"/>
<line x1="604" y1="684" x2="604" y2="731.2" stroke="#4d4947" stroke-width="0.6"/>
<line x1="526.8" y1="729.2" x2="565.6" y2="729.2" stroke="#4d4947" stroke-width="0.6"/>
<polygon points="526.8,729.2 532,728.05 532,730.35" fill="#4d4947"/>
<polygon points="565.6,729.2 560.4,730.35 560.4,728.05" fill="#4d4947"/>
<text x="547.4" y="727" font-size="11.5" text-anchor="middle" fill="#231f20" stroke="#231f20" stroke-width="0.3" textLength="12.8" lengthAdjust="spacingAndGlyphs">25</text>
<line x1="565.6" y1="729.2" x2="604" y2="729.2" stroke="#4d4947" stroke-width="0.6"/>
<polygon points="565.6,729.2 570.8,728.05 570.8,730.35" fill="#4d4947"/>
<polygon points="604,729.2 598.8,730.35 598.8,728.05" fill="#4d4947"/>
<text x="588.6" y="727" font-size="11.5" text-anchor="middle" fill="#231f20" stroke="#231f20" stroke-width="0.3" textLength="12.8" lengthAdjust="spacingAndGlyphs">25</text>
<line x1="614.5" y1="581.1" x2="661" y2="581.1" stroke="#4d4947" stroke-width="0.6"/>
<line x1="614.5" y1="658.1" x2="661" y2="658.1" stroke="#4d4947" stroke-width="0.6"/>
<line x1="606" y1="619.7" x2="661" y2="619.7" stroke="#4d4947" stroke-width="0.5"/>
<line x1="659.1" y1="581.1" x2="659.1" y2="619.7" stroke="#4d4947" stroke-width="0.6"/>
<polygon points="659.1,581.1 660.25,586.3 657.95,586.3" fill="#4d4947"/>
<polygon points="659.1,619.7 657.95,614.5 660.25,614.5" fill="#4d4947"/>
<text x="657.2" y="594.3" font-size="11.5" text-anchor="middle" fill="#231f20" stroke="#231f20" stroke-width="0.3" transform="rotate(-90 657.2 594.3)" textLength="12.5" lengthAdjust="spacingAndGlyphs">25</text>
<line x1="659.1" y1="619.7" x2="659.1" y2="658.1" stroke="#4d4947" stroke-width="0.6"/>
<polygon points="659.1,619.7 660.25,624.9 657.95,624.9" fill="#4d4947"/>
<polygon points="659.1,658.1 657.95,652.9 660.25,652.9" fill="#4d4947"/>
<text x="657.2" y="642.1" font-size="11.5" text-anchor="middle" fill="#231f20" stroke="#231f20" stroke-width="0.3" transform="rotate(-90 657.2 642.1)" textLength="12.5" lengthAdjust="spacingAndGlyphs">25</text>
<line x1="595.5" y1="595.5" x2="645.2" y2="595.5" stroke="#4d4947" stroke-width="0.6"/>
<line x1="595.5" y1="644.7" x2="645.2" y2="644.7" stroke="#4d4947" stroke-width="0.6"/>
<line x1="643.3" y1="595.5" x2="643.3" y2="644.7" stroke="#4d4947" stroke-width="0.6"/>
<polygon points="643.3,595.5 644.45,600.7 642.15,600.7" fill="#4d4947"/>
<polygon points="643.3,644.7 642.15,639.5 644.45,639.5" fill="#4d4947"/>
<text x="640.8" y="618.2" font-size="11.5" text-anchor="middle" fill="#231f20" stroke="#231f20" stroke-width="0.3" transform="rotate(-90 640.8 618.2)" textLength="12.5" lengthAdjust="spacingAndGlyphs">32</text>
<text x="646.6" y="503.2" font-size="11.5" text-anchor="start" fill="#231f20" stroke="#231f20" stroke-width="0.3" textLength="70.4" lengthAdjust="spacingAndGlyphs">M16×P1深度10</text>
<polyline points="718,505.7 644,505.7 574.6,610" fill="none" stroke="#4d4947" stroke-width="0.6" stroke-linejoin="miter"/>
<polygon points="574.6,610 576.52,605.03 578.44,606.31" fill="#4d4947"/>
<text x="644.6" y="529" font-size="11.5" text-anchor="start" fill="#231f20" stroke="#231f20" stroke-width="0.3" textLength="59.5" lengthAdjust="spacingAndGlyphs">4—M3深度10</text>
<polyline points="704,531 642.6,531 591.6,592.8" fill="none" stroke="#4d4947" stroke-width="0.6" stroke-linejoin="miter"/>
<polygon points="591.6,592.8 594.02,588.06 595.8,589.52" fill="#4d4947"/>
<text x="666.4" y="546.4" font-size="11.5" text-anchor="start" fill="#231f20" stroke="#231f20" stroke-width="0.3" textLength="59.5" lengthAdjust="spacingAndGlyphs">4—M4深度10</text>
<polyline points="666.4,548 725.9,548 752.6,586.6" fill="none" stroke="#4d4947" stroke-width="0.6" stroke-linejoin="miter"/>
<polygon points="752.6,586.6 748.7,582.98 750.59,581.67" fill="#4d4947"/>
<text x="682.3" y="558.8" font-size="9" text-anchor="start" fill="#231f20" stroke="#231f20" stroke-width="0.3" textLength="42.2" lengthAdjust="spacingAndGlyphs">(反面相同)</text>
<text x="636.7" y="571.6" font-size="11.5" text-anchor="start" fill="#231f20" stroke="#231f20" stroke-width="0.3" textLength="60.4" lengthAdjust="spacingAndGlyphs">8—M4深度10</text>
<polyline points="697,574 633.4,574 606.4,616.4" fill="none" stroke="#4d4947" stroke-width="0.6" stroke-linejoin="miter"/>
<polygon points="606.4,616.4 608.22,611.4 610.16,612.63" fill="#4d4947"/>
<text x="631.4" y="689.8" font-size="11.5" text-anchor="start" fill="#231f20" stroke="#231f20" stroke-width="0.3" textLength="62.4" lengthAdjust="spacingAndGlyphs">4—φ4.5通孔</text>
<polyline points="717.6,691.6 625.4,691.6 620.3,679.6" fill="none" stroke="#4d4947" stroke-width="0.6" stroke-linejoin="miter"/>
<text x="631.4" y="705.3" font-size="11.5" text-anchor="start" fill="#231f20" stroke="#231f20" stroke-width="0.3" textLength="86.6" lengthAdjust="spacingAndGlyphs">φ8沉孔、深度4.5</text>
<text x="623.8" y="721.2" font-size="11.5" text-anchor="start" fill="#231f20" stroke="#231f20" stroke-width="0.3" textLength="45.5" lengthAdjust="spacingAndGlyphs">进给旋钮</text>
<text x="670.5" y="717.5" font-size="8.5" text-anchor="start" fill="#231f20" stroke="#231f20" stroke-width="0.3" textLength="9" lengthAdjust="spacingAndGlyphs">*1</text>
<polyline points="681,724.7 619.5,724.7 591.6,699.2" fill="none" stroke="#4d4947" stroke-width="0.6" stroke-linejoin="miter"/>
<polygon points="591.6,699.2 596.21,701.86 594.66,703.56" fill="#4d4947"/>
<text x="442.9" y="724.4" font-size="11.5" text-anchor="start" fill="#231f20" stroke="#231f20" stroke-width="0.3" textLength="52.1" lengthAdjust="spacingAndGlyphs">2—固定夹</text>
<polyline points="440.9,726.6 496.4,726.6 524.2,684.6" fill="none" stroke="#4d4947" stroke-width="0.6" stroke-linejoin="miter"/>
<line x1="530" y1="751.1" x2="602" y2="751.1" stroke="#3b3735" stroke-width="1.1"/>
<line x1="516.1" y1="758.1" x2="537.1" y2="758.1" stroke="#4d4947" stroke-width="0.5" stroke-dasharray="2 1.2"/>
<line x1="526.6" y1="745.5" x2="526.6" y2="771" stroke="#4d4947" stroke-width="0.5" stroke-dasharray="2 1.2"/>
<line x1="593.2" y1="758.1" x2="614.2" y2="758.1" stroke="#4d4947" stroke-width="0.5" stroke-dasharray="2 1.2"/>
<line x1="603.7" y1="745.5" x2="603.7" y2="771" stroke="#4d4947" stroke-width="0.5" stroke-dasharray="2 1.2"/>
<line x1="535" y1="772.5" x2="597" y2="772.5" stroke="#4d4947" stroke-width="0.5" stroke-dasharray="4 1.2 1 1.2"/>
<line x1="566.2" y1="742" x2="566.2" y2="803" stroke="#4d4947" stroke-width="0.5" stroke-dasharray="4 1.2 1 1.2"/>
<line x1="511.4" y1="784" x2="511.4" y2="801" stroke="#4d4947" stroke-width="0.5" stroke-dasharray="3 1 1 1"/>
<line x1="619.2" y1="784" x2="619.2" y2="801" stroke="#4d4947" stroke-width="0.5" stroke-dasharray="3 1 1 1"/>
<line x1="457.7" y1="736.9" x2="515.6" y2="736.9" stroke="#4d4947" stroke-width="0.6"/>
<line x1="457.7" y1="796.9" x2="500.4" y2="796.9" stroke="#4d4947" stroke-width="0.6"/>
<line x1="459.7" y1="736.9" x2="459.7" y2="796.9" stroke="#4d4947" stroke-width="0.6"/>
<polygon points="459.7,736.9 460.85,742.1 458.55,742.1" fill="#4d4947"/>
<polygon points="459.7,796.9 458.55,791.7 460.85,791.7" fill="#4d4947"/>
<text x="457.2" y="764.8" font-size="11.5" text-anchor="middle" fill="#231f20" stroke="#231f20" stroke-width="0.3" transform="rotate(-90 457.2 764.8)" textLength="20" lengthAdjust="spacingAndGlyphs">39.5</text>
<line x1="473.6" y1="788" x2="500.4" y2="788" stroke="#4d4947" stroke-width="0.6"/>
<line x1="475.6" y1="776.5" x2="475.6" y2="808.2" stroke="#4d4947" stroke-width="0.6"/>
<polygon points="475.6,788 474.45,782.8 476.75,782.8" fill="#4d4947"/>
<polygon points="475.6,796.9 476.75,802.1 474.45,802.1" fill="#4d4947"/>
<text x="474.2" y="792.4" font-size="11.5" text-anchor="middle" fill="#231f20" stroke="#231f20" stroke-width="0.3" transform="rotate(-90 474.2 792.4)" textLength="6.2" lengthAdjust="spacingAndGlyphs">6</text>
<line x1="619.3" y1="758.1" x2="661.4" y2="758.1" stroke="#4d4947" stroke-width="0.6"/>
<line x1="629.2" y1="796.9" x2="661.4" y2="796.9" stroke="#4d4947" stroke-width="0.6"/>
<line x1="659.5" y1="758.1" x2="659.5" y2="796.9" stroke="#4d4947" stroke-width="0.6"/>
<polygon points="659.5,758.1 660.65,763.3 658.35,763.3" fill="#4d4947"/>
<polygon points="659.5,796.9 658.35,791.7 660.65,791.7" fill="#4d4947"/>
<text x="657.4" y="776.2" font-size="11.5" text-anchor="middle" fill="#231f20" stroke="#231f20" stroke-width="0.3" transform="rotate(-90 657.4 776.2)" textLength="12.5" lengthAdjust="spacingAndGlyphs">26</text>
<line x1="599.5" y1="773.1" x2="645.6" y2="773.1" stroke="#4d4947" stroke-width="0.6"/>
<line x1="643.7" y1="773.1" x2="643.7" y2="796.9" stroke="#4d4947" stroke-width="0.6"/>
<polygon points="643.7,773.1 644.85,778.3 642.55,778.3" fill="#4d4947"/>
<polygon points="643.7,796.9 642.55,791.7 644.85,791.7" fill="#4d4947"/>
<text x="641.2" y="784.6" font-size="11.5" text-anchor="middle" fill="#231f20" stroke="#231f20" stroke-width="0.3" transform="rotate(-90 641.2 784.6)" textLength="12" lengthAdjust="spacingAndGlyphs">16</text>
<line x1="779.3" y1="562.6" x2="788.5" y2="573.2" stroke="#3b3735" stroke-width="0.6"/>
<line x1="788.5" y1="562.6" x2="779.3" y2="573.2" stroke="#3b3735" stroke-width="0.6"/>
<line x1="796" y1="566.4" x2="813" y2="566.4" stroke="#4d4947" stroke-width="0.5" stroke-dasharray="3 1 1 1"/>
<line x1="796" y1="673.4" x2="813" y2="673.4" stroke="#4d4947" stroke-width="0.5" stroke-dasharray="3 1 1 1"/>
<polyline points="762.03,573.28 762.03,602.62 774.52,596.08 774.52,615.11" fill="none" stroke="#3b3735" stroke-width="1.1" stroke-linejoin="miter"/>
<polyline points="774.52,624.83 774.52,646.24 762.03,637.32 762.03,665.67" fill="none" stroke="#3b3735" stroke-width="1.1" stroke-linejoin="miter"/>
<line x1="762.03" y1="646.24" x2="776.5" y2="646.24" stroke="#3b3735" stroke-width="0.8"/>
<polyline points="776.5,611.94 782.45,611.94 782.45,627.41 776.5,627.41" fill="none" stroke="#3b3735" stroke-width="0.9" stroke-linejoin="miter"/>
<line x1="768.57" y1="646.24" x2="768.57" y2="671.02" stroke="#4d4947" stroke-width="0.5" stroke-dasharray="1.6 1.1"/>
<line x1="783.4" y1="520" x2="783.4" y2="710" stroke="#4d4947" stroke-width="0.5" stroke-dasharray="2 1.2"/>
<line x1="779.3" y1="665.8" x2="787.9" y2="676.7" stroke="#3b3735" stroke-width="0.6"/>
<line x1="787.9" y1="665.8" x2="779.3" y2="676.7" stroke="#3b3735" stroke-width="0.6"/>
<line x1="755.1" y1="504.6" x2="755.1" y2="585" stroke="#4d4947" stroke-width="0.6"/>
<line x1="807.8" y1="504.6" x2="807.8" y2="557" stroke="#4d4947" stroke-width="0.6"/>
<line x1="755.1" y1="506.7" x2="807.8" y2="506.7" stroke="#4d4947" stroke-width="0.6"/>
<polygon points="755.1,506.7 760.3,505.55 760.3,507.85" fill="#4d4947"/>
<polygon points="807.8,506.7 802.6,507.85 802.6,505.55" fill="#4d4947"/>
<text x="784.8" y="504.4" font-size="11.5" text-anchor="middle" fill="#231f20" stroke="#231f20" stroke-width="0.3" textLength="21.5" lengthAdjust="spacingAndGlyphs">34.5</text>
<line x1="783.4" y1="522.9" x2="807.8" y2="522.9" stroke="#4d4947" stroke-width="0.6"/>
<polygon points="783.4,522.9 788.6,521.75 788.6,524.05" fill="#4d4947"/>
<polygon points="807.8,522.9 802.6,524.05 802.6,521.75" fill="#4d4947"/>
<text x="796.3" y="520.6" font-size="11.5" text-anchor="middle" fill="#231f20" stroke="#231f20" stroke-width="0.3" textLength="12" lengthAdjust="spacingAndGlyphs">16</text>
<text x="819.7" y="532.6" font-size="11.5" text-anchor="start" fill="#231f20" stroke="#231f20" stroke-width="0.3" textLength="45.5" lengthAdjust="spacingAndGlyphs">进给旋钮</text>
<text x="866" y="530" font-size="10" text-anchor="start" fill="#231f20" stroke="#231f20" stroke-width="0.3">*</text>
<polyline points="873,535.4 817.1,535.4 808.2,546.3" fill="none" stroke="#4d4947" stroke-width="0.6" stroke-linejoin="miter"/>
<line x1="807.2" y1="558.6" x2="857.4" y2="558.6" stroke="#4d4947" stroke-width="0.6"/>
<line x1="812.2" y1="681.2" x2="857.4" y2="681.2" stroke="#4d4947" stroke-width="0.6"/>
<line x1="855.4" y1="558.6" x2="855.4" y2="681.2" stroke="#4d4947" stroke-width="0.6"/>
<polygon points="855.4,558.6 856.55,563.8 854.25,563.8" fill="#4d4947"/>
<polygon points="855.4,681.2 854.25,676 856.55,676" fill="#4d4947"/>
<text x="853.6" y="618" font-size="11.5" text-anchor="middle" fill="#231f20" stroke="#231f20" stroke-width="0.3" transform="rotate(-90 853.6 618)" textLength="12.5" lengthAdjust="spacingAndGlyphs">80</text>
<line x1="815.2" y1="566.5" x2="841" y2="566.5" stroke="#4d4947" stroke-width="0.6"/>
<line x1="815.2" y1="673.3" x2="841" y2="673.3" stroke="#4d4947" stroke-width="0.6"/>
<line x1="839.2" y1="566.5" x2="839.2" y2="673.3" stroke="#4d4947" stroke-width="0.6"/>
<polygon points="839.2,566.5 840.35,571.7 838.05,571.7" fill="#4d4947"/>
<polygon points="839.2,673.3 838.05,668.1 840.35,668.1" fill="#4d4947"/>
<text x="837.8" y="618" font-size="11.5" text-anchor="middle" fill="#231f20" stroke="#231f20" stroke-width="0.3" transform="rotate(-90 837.8 618)" textLength="12.5" lengthAdjust="spacingAndGlyphs">70</text>
<line x1="794.3" y1="589.1" x2="825" y2="589.1" stroke="#4d4947" stroke-width="0.6"/>
<line x1="794.3" y1="650.6" x2="825" y2="650.6" stroke="#4d4947" stroke-width="0.6"/>
<line x1="823.1" y1="589.1" x2="823.1" y2="650.6" stroke="#4d4947" stroke-width="0.6"/>
<polygon points="823.1,589.1 824.25,594.3 821.95,594.3" fill="#4d4947"/>
<polygon points="823.1,650.6 821.95,645.4 824.25,645.4" fill="#4d4947"/>
<text x="821" y="618" font-size="11.5" text-anchor="middle" fill="#231f20" stroke="#231f20" stroke-width="0.3" transform="rotate(-90 821 618)" textLength="12.5" lengthAdjust="spacingAndGlyphs">40</text>
<line x1="760.2" y1="703" x2="760.2" y2="735.4" stroke="#4d4947" stroke-width="0.6"/>
<line x1="777.5" y1="686" x2="777.5" y2="719.6" stroke="#4d4947" stroke-width="0.6"/>
<line x1="805.6" y1="703" x2="805.6" y2="735.4" stroke="#4d4947" stroke-width="0.6"/>
<line x1="760.2" y1="717.9" x2="777.5" y2="717.9" stroke="#4d4947" stroke-width="0.6"/>
<polygon points="760.2,717.9 765.4,716.75 765.4,719.05" fill="#4d4947"/>
<polygon points="777.5,717.9 772.3,719.05 772.3,716.75" fill="#4d4947"/>
<text x="769.4" y="713.6" font-size="10.5" text-anchor="middle" fill="#231f20" stroke="#231f20" stroke-width="0.3" textLength="15.5" lengthAdjust="spacingAndGlyphs">φ12</text>
<line x1="760.2" y1="733.8" x2="805.6" y2="733.8" stroke="#4d4947" stroke-width="0.6"/>
<polygon points="760.2,733.8 765.4,732.65 765.4,734.95" fill="#4d4947"/>
<polygon points="805.6,733.8 800.4,734.95 800.4,732.65" fill="#4d4947"/>
<text x="783.8" y="730.6" font-size="11.5" text-anchor="middle" fill="#231f20" stroke="#231f20" stroke-width="0.3" textLength="21.5" lengthAdjust="spacingAndGlyphs">φ30</text>
</g>
</svg>
<table class="t2"><colgroup><col style="width:61px"><col style="width:39px"><col style="width:59px"><col style="width:46px"><col style="width:64px"><col style="width:71px"><col style="width:42px"><col style="width:42px"><col style="width:55px"><col style="width:60px"><col style="width:49px"><col style="width:49px"><col style="width:49px"><col style="width:43px"><col style="width:40px"><col style="width:64px"></colgroup>
<thead>
<tr class="h1"><th colspan="2">型式</th><th rowspan="2" class="two"><div>滑台面<br><span class="n">(mm)</span></div></th><th rowspan="2" class="two"><div>移动量<br><span class="n">(mm)</span></div></th><th colspan="2">旋钮旋转<span class="n">1</span>圈的移动量<span class="n">(mm)</span></th><th colspan="2">耐负载<span class="n">(N)</span></th><th colspan="2">移动精度<span class="n">(μm)</span></th><th colspan="3">容许力矩负载<span class="n">(N·m)</span></th><th rowspan="2" class="two tight"><div>平行度<br><span class="n">(μm)</span></div></th><th rowspan="2" class="two tight"><div>自重<br><span class="n">(kg)</span></div></th><th rowspan="2" class="two"><div>附件<span class="n">(4</span>个<span class="n">)</span><br>不锈钢螺栓</div></th></tr>
<tr class="h2"><th>类型</th><th><span class="k">No.</span></th><th>粗调</th><th>微调</th><th>水平</th><th>垂直</th><th>直线度</th><th>运动平行度</th><th>上下摆动</th><th>左右摇动</th><th>侧向滚动</th></tr>
</thead>
<tbody>
<tr><td rowspan="3"><span class="c">LXXFG</span></td><td><span class="n">25</span></td><td><span class="n">25</span> <span class="w">×</span><span class="n">25</span></td><td><span class="w">±</span><span class="n">5</span></td><td><span class="n">17</span></td><td><span class="d">—</span></td><td rowspan="2"><span class="n">29.4</span></td><td><span class="n">6.9</span></td><td><span class="n">30</span></td><td><span class="n">80</span></td><td><span class="n">0.5</span></td><td><span class="n">0.5</span></td><td><span class="n">0.5</span></td><td><span class="n">50</span></td><td><span class="n">0.09</span></td><td class="b"><span class="c">M2*12</span></td></tr>
<tr><td><span class="n">40</span></td><td><span class="n">40</span> <span class="w">×</span><span class="n">40</span></td><td><span class="w">±</span><span class="n">10</span></td><td><span class="n">20</span></td><td><span class="d">—</span></td><td><span class="n">14.7</span></td><td><span class="n">20</span></td><td><span class="n">30</span></td><td><span class="n">3.0</span></td><td><span class="n">3.0</span></td><td><span class="n">2.0</span></td><td><span class="n">40</span></td><td><span class="n">0.21</span></td><td class="b"><span class="c">M4*6</span></td></tr>
<tr><td><span class="n">60</span></td><td><span class="n">60</span> <span class="w">×</span><span class="n">60</span></td><td><span class="w">±</span><span class="n">20</span></td><td><span class="n">18</span></td><td><span class="d">—</span></td><td><span class="n">39.2</span></td><td><span class="n">19.6</span></td><td><span class="n">30</span></td><td><span class="n">50</span></td><td><span class="n">7.0</span></td><td><span class="n">5.0</span></td><td><span class="n">7.0</span></td><td><span class="n">60</span></td><td><span class="n">0.64</span></td><td class="b"><span class="c">M4*6</span></td></tr>
</tbody></table>
<div class="note"><span>最小读数(游标刻度)：0.1mm /刻度</span></div>
</div>
</body>
</html>
